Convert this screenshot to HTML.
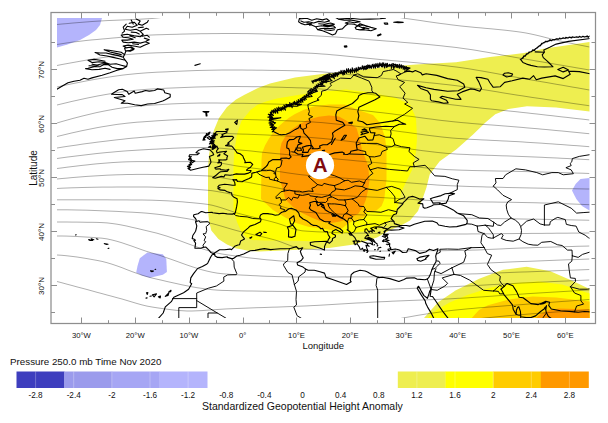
<!DOCTYPE html>
<html><head><meta charset="utf-8"><title>Standardized Geopotential Height Anomaly</title>
<style>html,body{margin:0;padding:0;background:#fff;}body{width:608px;height:423px;overflow:hidden;font-family:"Liberation Sans",sans-serif;}svg{display:block}</style>
</head><body>
<svg width="608" height="423" viewBox="0 0 608 423" font-family="Liberation Sans, sans-serif" fill="#111">
<rect width="608" height="423" fill="#fff"/>
<defs><clipPath id="dc"><rect x="57" y="18" width="532.5" height="300"/></clipPath></defs>
<g shape-rendering="auto">
<polygon points="208.0,211.0 208.0,168.0 209.0,155.0 211.0,143.0 214.0,130.0 219.0,118.0 227.0,107.0 236.0,99.5 245.0,94.5 258.0,88.0 270.0,83.5 295.0,77.5 324.0,73.7 346.0,71.8 379.0,67.5 416.0,64.5 456.0,62.3 490.0,57.0 524.0,53.0 545.0,48.5 589.5,42.0 589.5,111.5 556.0,107.5 527.0,106.3 508.4,109.0 495.3,114.2 486.0,122.0 472.8,134.7 456.2,149.6 439.7,161.2 429.7,174.5 426.4,187.7 423.0,197.6 418.0,210.9 410.0,220.5 400.0,226.0 390.0,230.0 377.0,237.5 354.0,244.5 329.0,248.0 304.0,249.5 282.0,250.5 259.0,251.5 249.6,251.0 235.5,248.2 227.0,244.6 218.4,239.0 211.3,230.5 209.0,221.0" fill="#EEEE50"/>
<polygon points="233.5,210.0 233.5,165.0 234.5,150.0 237.0,134.0 241.5,121.0 251.0,109.5 258.0,104.5 266.0,101.5 277.0,98.6 299.4,94.8 321.6,91.8 346.0,89.5 370.0,92.5 395.0,97.5 410.0,104.5 416.0,118.0 417.0,138.0 416.0,152.0 412.0,170.0 406.0,182.0 401.0,193.0 398.0,205.0 395.0,215.0 389.3,221.6 373.0,229.8 356.4,232.5 345.0,233.0 336.6,234.5 330.2,238.7 323.8,242.0 320.0,241.5 304.0,241.0 280.0,240.5 265.0,240.5 252.0,240.0 246.0,237.0 241.0,231.0 237.0,222.0 234.0,212.0" fill="#FFFF00"/>
<polygon points="261.0,199.0 261.5,160.0 262.0,153.0 265.0,145.5 269.0,138.5 273.3,132.5 278.0,127.0 283.3,122.3 289.0,117.8 295.0,114.0 303.8,109.8 314.2,106.2 329.0,104.6 345.0,104.5 359.0,110.3 373.0,115.0 380.0,123.0 385.0,137.0 386.5,150.0 386.5,180.0 384.2,199.5 381.6,206.0 376.4,210.6 366.0,212.5 364.7,217.0 358.0,220.0 352.5,221.0 347.5,224.0 341.9,228.5 331.3,230.0 320.0,228.3 308.3,226.8 296.0,223.0 285.3,217.6 273.0,210.0" fill="#FFCC00"/>
<polygon points="280.0,180.0 280.0,150.0 281.5,143.0 285.0,137.0 290.4,130.5 298.9,124.5 308.8,119.5 318.7,116.8 329.0,115.5 339.0,116.5 347.0,121.0 356.5,128.0 360.0,140.0 362.0,150.0 368.0,165.0 369.5,180.0 368.0,190.4 366.0,199.5 363.4,206.0 358.2,213.8 347.8,219.0 340.0,221.6 331.3,223.0 320.6,221.2 311.4,217.6 302.2,213.0 293.0,206.9 285.3,199.2 283.0,190.0" fill="#FF9900"/>
<polygon points="424.0,318.0 437.8,302.4 455.5,290.5 479.2,278.7 502.9,269.8 526.6,266.8 550.3,271.3 573.9,281.6 589.5,289.0 589.5,318.0" fill="#EEEE50"/>
<polygon points="428.0,318.0 432.0,312.7 449.6,302.4 467.4,295.0 491.0,287.6 514.7,283.1 538.4,281.6 562.1,284.6 589.5,293.5 589.5,318.0" fill="#FFFF00"/>
<polygon points="471.8,318.0 479.0,310.0 488.0,305.3 508.8,299.4 532.5,296.4 556.2,297.5 589.5,301.5 589.5,318.0" fill="#FFCC00"/>
<polygon points="536.0,318.0 541.0,314.0 548.0,310.5 559.0,308.5 589.5,309.5 589.5,318.0" fill="#FF9900"/>
<polygon points="57.0,18.0 102.0,18.0 100.0,25.0 96.0,30.0 89.0,35.0 80.0,40.0 67.5,44.5 57.0,47.5" fill="#B4B4FC"/>
<polygon points="136.2,272.5 137.5,266.0 139.8,258.3 147.4,252.4 162.8,254.2 166.3,258.9 166.9,271.9 162.8,274.8 149.8,277.8 142.0,275.5" fill="#B4B4FC"/>
<polygon points="589.5,178.0 580.5,179.0 575.6,184.0 572.0,190.5 576.3,199.0 582.0,206.0 589.5,210.5" fill="#B4B4FC"/>
</g>
<g clip-path="url(#dc)"><path d="M57.0 24.5 L62.0 24.0 L67.0 23.6 L72.0 23.1 L77.0 22.7 L82.0 22.3 L87.0 21.9 L92.0 21.5 L97.0 21.2 L102.0 20.9 L107.0 20.6 L112.0 20.4 L117.0 20.2 L122.0 20.0 L127.0 19.8 L132.0 19.6 L137.0 19.4 L142.0 19.1 L147.0 18.8 L152.0 18.5 L157.0 18.0 L162.0 17.4 L165.0 17.0 M57.0 44.5 L62.0 43.7 L67.0 42.9 L72.0 42.2 L77.0 41.6 L82.0 41.0 L87.0 40.4 L92.0 39.9 L97.0 39.5 L102.0 39.0 L107.0 38.6 L112.0 38.1 L117.0 37.7 L122.0 37.2 L127.0 36.7 L132.0 36.3 L137.0 35.9 L142.0 35.5 L147.0 35.2 L152.0 35.0 L157.0 34.8 L162.0 34.7 L167.0 34.5 L172.0 34.4 L177.0 34.3 L182.0 34.1 L187.0 34.0 L192.0 33.9 L197.0 33.8 L202.0 33.7 L207.0 33.7 L212.0 33.6 L217.0 33.6 L222.0 33.5 L227.0 33.5 L232.0 33.5 L237.0 33.5 L242.0 33.6 L247.0 33.6 L252.0 33.7 L257.0 33.8 L262.0 33.9 L267.0 34.1 L272.0 34.2 L277.0 34.4 L282.0 34.5 L287.0 34.7 L292.0 34.9 L297.0 35.0 L302.0 35.2 L307.0 35.4 L312.0 35.6 L317.0 35.9 L322.0 36.2 L327.0 36.5 L332.0 36.8 L337.0 37.1 L342.0 37.5 L347.0 37.9 L352.0 38.3 L357.0 38.7 L362.0 39.1 L367.0 39.5 L372.0 39.9 L377.0 40.3 L382.0 40.7 L387.0 41.1 L392.0 41.4 L397.0 41.8 L402.0 42.3 L407.0 42.7 L412.0 43.1 L417.0 43.5 L422.0 44.0 L427.0 44.4 L432.0 44.9 L437.0 45.4 L442.0 45.9 L447.0 46.5 L452.0 47.0 L457.0 47.6 L462.0 48.3 L467.0 49.0 L472.0 49.7 L477.0 50.5 L482.0 51.4 L487.0 52.2 L492.0 53.1 L497.0 54.0 L502.0 55.0 L507.0 55.9 L512.0 56.8 L517.0 57.7 L522.0 58.5 L527.0 59.4 L532.0 60.2 L537.0 61.1 L542.0 61.9 L547.0 62.8 L552.0 63.6 L557.0 64.5 L562.0 65.3 L567.0 66.2 L572.0 67.0 L577.0 67.9 L582.0 68.7 L587.0 69.6 L589.5 70.0 M57.0 65.5 L62.0 64.5 L67.0 63.6 L72.0 62.7 L77.0 61.8 L82.0 60.9 L87.0 60.0 L92.0 59.2 L97.0 58.4 L102.0 57.7 L107.0 57.0 L112.0 56.3 L117.0 55.7 L122.0 55.2 L127.0 54.6 L132.0 54.2 L137.0 53.8 L142.0 53.5 L147.0 53.2 L152.0 53.0 L157.0 52.8 L162.0 52.7 L167.0 52.5 L172.0 52.4 L177.0 52.3 L182.0 52.1 L187.0 52.0 L192.0 51.9 L197.0 51.8 L202.0 51.7 L207.0 51.7 L212.0 51.6 L217.0 51.6 L222.0 51.5 L227.0 51.5 L232.0 51.5 L237.0 51.5 L242.0 51.6 L247.0 51.6 L252.0 51.7 L257.0 51.7 L262.0 51.8 L267.0 51.9 L272.0 52.1 L277.0 52.2 L282.0 52.3 L287.0 52.5 L292.0 52.6 L297.0 52.8 L302.0 52.9 L307.0 53.1 L312.0 53.3 L317.0 53.6 L322.0 54.0 L327.0 54.3 L332.0 54.8 L337.0 55.2 L342.0 55.7 L347.0 56.2 L352.0 56.7 L357.0 57.2 L362.0 57.7 L367.0 58.2 L372.0 58.7 L377.0 59.2 L382.0 59.7 L387.0 60.1 L392.0 60.6 L397.0 61.0 L402.0 61.5 L407.0 61.9 L412.0 62.4 L417.0 62.8 L422.0 63.3 L427.0 63.8 L432.0 64.3 L437.0 64.8 L442.0 65.3 L447.0 65.9 L452.0 66.5 L457.0 67.1 L462.0 67.8 L467.0 68.5 L472.0 69.3 L477.0 70.2 L482.0 71.0 L487.0 71.9 L492.0 72.8 L497.0 73.7 L502.0 74.7 L507.0 75.6 L512.0 76.5 L517.0 77.4 L522.0 78.3 L527.0 79.2 L532.0 80.1 L537.0 80.9 L542.0 81.8 L547.0 82.6 L552.0 83.5 L557.0 84.4 L562.0 85.2 L567.0 86.1 L572.0 87.0 L577.0 87.8 L582.0 88.7 L587.0 89.6 L589.5 90.0 M57.0 87.0 L62.0 85.9 L67.0 84.8 L72.0 83.8 L77.0 82.8 L82.0 81.8 L87.0 80.8 L92.0 79.9 L97.0 79.0 L102.0 78.2 L107.0 77.4 L112.0 76.6 L117.0 75.9 L122.0 75.2 L127.0 74.6 L132.0 74.1 L137.0 73.6 L142.0 73.2 L147.0 72.8 L152.0 72.5 L157.0 72.2 L162.0 72.0 L167.0 71.8 L172.0 71.5 L177.0 71.3 L182.0 71.1 L187.0 70.9 L192.0 70.7 L197.0 70.5 L202.0 70.4 L207.0 70.3 L212.0 70.2 L217.0 70.1 L222.0 70.0 L227.0 70.0 L232.0 70.0 L237.0 70.0 L242.0 70.0 L247.0 70.1 L252.0 70.1 L257.0 70.2 L262.0 70.2 L267.0 70.3 L272.0 70.4 L277.0 70.4 L282.0 70.5 L287.0 70.6 L292.0 70.7 L297.0 70.8 L302.0 71.0 L307.0 71.1 L312.0 71.3 L317.0 71.6 L322.0 71.9 L327.0 72.3 L332.0 72.8 L337.0 73.3 L342.0 73.8 L347.0 74.4 L352.0 74.9 L357.0 75.5 L362.0 76.1 L367.0 76.6 L372.0 77.2 L377.0 77.7 L382.0 78.2 L387.0 78.7 L392.0 79.1 L397.0 79.6 L402.0 80.1 L407.0 80.5 L412.0 81.0 L417.0 81.5 L422.0 82.0 L427.0 82.5 L432.0 83.0 L437.0 83.5 L442.0 84.1 L447.0 84.6 L452.0 85.2 L457.0 85.8 L462.0 86.5 L467.0 87.2 L472.0 87.9 L477.0 88.6 L482.0 89.4 L487.0 90.2 L492.0 91.0 L497.0 91.8 L502.0 92.7 L507.0 93.5 L512.0 94.3 L517.0 95.1 L522.0 95.8 L527.0 96.6 L532.0 97.4 L537.0 98.1 L542.0 98.8 L547.0 99.6 L552.0 100.3 L557.0 101.1 L562.0 101.8 L567.0 102.5 L572.0 103.3 L577.0 104.0 L582.0 104.7 L587.0 105.4 L589.5 105.8 M57.0 105.0 L62.0 103.8 L67.0 102.6 L72.0 101.4 L77.0 100.3 L82.0 99.2 L87.0 98.1 L92.0 97.1 L97.0 96.1 L102.0 95.2 L107.0 94.3 L112.0 93.5 L117.0 92.7 L122.0 91.9 L127.0 91.3 L132.0 90.7 L137.0 90.1 L142.0 89.7 L147.0 89.3 L152.0 89.0 L157.0 88.7 L162.0 88.5 L167.0 88.2 L172.0 88.0 L177.0 87.8 L182.0 87.6 L187.0 87.4 L192.0 87.2 L197.0 87.0 L202.0 86.9 L207.0 86.8 L212.0 86.7 L217.0 86.6 L222.0 86.5 L227.0 86.5 L232.0 86.5 L237.0 86.5 L242.0 86.6 L247.0 86.6 L252.0 86.7 L257.0 86.7 L262.0 86.8 L267.0 86.9 L272.0 87.1 L277.0 87.2 L282.0 87.3 L287.0 87.5 L292.0 87.6 L297.0 87.8 L302.0 87.9 L307.0 88.1 L312.0 88.4 L317.0 88.7 L322.0 89.1 L327.0 89.5 L332.0 90.0 L337.0 90.5 L342.0 91.0 L347.0 91.6 L352.0 92.2 L357.0 92.8 L362.0 93.4 L367.0 94.0 L372.0 94.6 L377.0 95.2 L382.0 95.7 L387.0 96.3 L392.0 96.9 L397.0 97.6 L402.0 98.2 L407.0 98.9 L412.0 99.5 L417.0 100.2 L422.0 100.9 L427.0 101.6 L432.0 102.3 L437.0 102.9 L442.0 103.6 L447.0 104.2 L452.0 104.8 L457.0 105.4 L462.0 106.0 L467.0 106.6 L472.0 107.1 L477.0 107.6 L482.0 108.2 L487.0 108.7 L492.0 109.2 L497.0 109.7 L502.0 110.3 L507.0 110.8 L512.0 111.3 L517.0 111.8 L522.0 112.4 L527.0 112.9 L532.0 113.5 L537.0 114.0 L542.0 114.6 L547.0 115.2 L552.0 115.7 L557.0 116.3 L562.0 116.9 L567.0 117.4 L572.0 118.0 L577.0 118.6 L582.0 119.1 L587.0 119.7 L589.5 120.0 M57.0 123.0 L62.0 121.5 L67.0 120.1 L72.0 118.7 L77.0 117.4 L82.0 116.1 L87.0 114.9 L92.0 113.7 L97.0 112.5 L102.0 111.5 L107.0 110.5 L112.0 109.6 L117.0 108.7 L122.0 108.0 L127.0 107.3 L132.0 106.7 L137.0 106.2 L142.0 105.9 L147.0 105.5 L152.0 105.1 L157.0 104.8 L162.0 104.5 L167.0 104.2 L172.0 103.9 L177.0 103.7 L182.0 103.5 L187.0 103.3 L192.0 103.2 L197.0 103.1 L202.0 103.0 L207.0 103.0 L212.0 103.0 L217.0 103.0 L222.0 103.1 L227.0 103.1 L232.0 103.2 L237.0 103.3 L242.0 103.3 L247.0 103.4 L252.0 103.5 L257.0 103.6 L262.0 103.7 L267.0 103.9 L272.0 104.0 L277.0 104.1 L282.0 104.3 L287.0 104.4 L292.0 104.6 L297.0 104.8 L302.0 104.9 L307.0 105.1 L312.0 105.4 L317.0 105.7 L322.0 106.1 L327.0 106.5 L332.0 107.0 L337.0 107.5 L342.0 108.0 L347.0 108.6 L352.0 109.2 L357.0 109.8 L362.0 110.4 L367.0 111.0 L372.0 111.6 L377.0 112.2 L382.0 112.7 L387.0 113.3 L392.0 113.9 L397.0 114.6 L402.0 115.2 L407.0 115.9 L412.0 116.5 L417.0 117.2 L422.0 117.9 L427.0 118.6 L432.0 119.2 L437.0 119.9 L442.0 120.5 L447.0 121.0 L452.0 121.6 L457.0 122.1 L462.0 122.6 L467.0 123.0 L472.0 123.5 L477.0 123.9 L482.0 124.3 L487.0 124.7 L492.0 125.0 L497.0 125.4 L502.0 125.8 L507.0 126.2 L512.0 126.6 L517.0 127.0 L522.0 127.4 L527.0 127.9 L532.0 128.3 L537.0 128.7 L542.0 129.2 L547.0 129.6 L552.0 130.1 L557.0 130.6 L562.0 131.0 L567.0 131.5 L572.0 132.0 L577.0 132.5 L582.0 133.0 L587.0 133.5 L589.5 133.7 M57.0 136.5 L62.0 135.3 L67.0 134.1 L72.0 132.9 L77.0 131.8 L82.0 130.7 L87.0 129.7 L92.0 128.7 L97.0 127.7 L102.0 126.8 L107.0 126.0 L112.0 125.2 L117.0 124.4 L122.0 123.8 L127.0 123.2 L132.0 122.7 L137.0 122.2 L142.0 121.9 L147.0 121.5 L152.0 121.2 L157.0 120.8 L162.0 120.5 L167.0 120.2 L172.0 119.9 L177.0 119.7 L182.0 119.5 L187.0 119.3 L192.0 119.2 L197.0 119.1 L202.0 119.0 L207.0 119.0 L212.0 119.0 L217.0 119.0 L222.0 119.1 L227.0 119.2 L232.0 119.2 L237.0 119.3 L242.0 119.4 L247.0 119.5 L252.0 119.7 L257.0 119.8 L262.0 120.0 L267.0 120.1 L272.0 120.3 L277.0 120.5 L282.0 120.6 L287.0 120.8 L292.0 121.0 L297.0 121.2 L302.0 121.4 L307.0 121.6 L312.0 121.9 L317.0 122.3 L322.0 122.6 L327.0 123.1 L332.0 123.6 L337.0 124.1 L342.0 124.6 L347.0 125.2 L352.0 125.7 L357.0 126.3 L362.0 126.9 L367.0 127.5 L372.0 128.1 L377.0 128.7 L382.0 129.2 L387.0 129.8 L392.0 130.4 L397.0 131.1 L402.0 131.8 L407.0 132.4 L412.0 133.1 L417.0 133.8 L422.0 134.5 L427.0 135.2 L432.0 135.8 L437.0 136.4 L442.0 137.0 L447.0 137.5 L452.0 138.0 L457.0 138.4 L462.0 138.7 L467.0 139.1 L472.0 139.4 L477.0 139.6 L482.0 139.9 L487.0 140.1 L492.0 140.4 L497.0 140.6 L502.0 140.9 L507.0 141.1 L512.0 141.4 L517.0 141.6 L522.0 141.9 L527.0 142.3 L532.0 142.6 L537.0 142.9 L542.0 143.2 L547.0 143.6 L552.0 143.9 L557.0 144.3 L562.0 144.6 L567.0 145.0 L572.0 145.4 L577.0 145.7 L582.0 146.1 L587.0 146.5 L589.5 146.7 M57.0 148.0 L62.0 147.2 L67.0 146.4 L72.0 145.7 L77.0 145.0 L82.0 144.2 L87.0 143.5 L92.0 142.9 L97.0 142.2 L102.0 141.6 L107.0 141.0 L112.0 140.4 L117.0 139.8 L122.0 139.3 L127.0 138.7 L132.0 138.2 L137.0 137.8 L142.0 137.3 L147.0 136.9 L152.0 136.4 L157.0 135.9 L162.0 135.5 L167.0 135.0 L172.0 134.6 L177.0 134.2 L182.0 133.8 L187.0 133.5 L192.0 133.3 L197.0 133.1 L202.0 133.0 L207.0 133.0 L212.0 133.1 L217.0 133.2 L222.0 133.3 L227.0 133.5 L232.0 133.7 L237.0 133.9 L242.0 134.1 L247.0 134.2 L252.0 134.4 L257.0 134.6 L262.0 134.8 L267.0 135.0 L272.0 135.3 L277.0 135.5 L282.0 135.7 L287.0 136.0 L292.0 136.3 L297.0 136.6 L302.0 136.9 L307.0 137.2 L312.0 137.6 L317.0 138.0 L322.0 138.4 L327.0 138.9 L332.0 139.4 L337.0 140.0 L342.0 140.6 L347.0 141.1 L352.0 141.7 L357.0 142.3 L362.0 142.9 L367.0 143.5 L372.0 144.1 L377.0 144.7 L382.0 145.2 L387.0 145.8 L392.0 146.5 L397.0 147.1 L402.0 147.8 L407.0 148.5 L412.0 149.2 L417.0 149.9 L422.0 150.6 L427.0 151.2 L432.0 151.8 L437.0 152.4 L442.0 152.9 L447.0 153.4 L452.0 153.7 L457.0 154.1 L462.0 154.3 L467.0 154.5 L472.0 154.8 L477.0 154.9 L482.0 155.1 L487.0 155.3 L492.0 155.4 L497.0 155.6 L502.0 155.8 L507.0 155.9 L512.0 156.1 L517.0 156.3 L522.0 156.5 L527.0 156.7 L532.0 156.9 L537.0 157.1 L542.0 157.3 L547.0 157.6 L552.0 157.8 L557.0 158.0 L562.0 158.3 L567.0 158.5 L572.0 158.8 L577.0 159.0 L582.0 159.3 L587.0 159.6 L589.5 159.7 M57.0 158.5 L62.0 157.8 L67.0 157.1 L72.0 156.5 L77.0 155.9 L82.0 155.3 L87.0 154.7 L92.0 154.1 L97.0 153.5 L102.0 153.0 L107.0 152.5 L112.0 152.1 L117.0 151.6 L122.0 151.2 L127.0 150.8 L132.0 150.5 L137.0 150.2 L142.0 149.9 L147.0 149.6 L152.0 149.3 L157.0 149.1 L162.0 148.8 L167.0 148.6 L172.0 148.3 L177.0 148.1 L182.0 147.9 L187.0 147.8 L192.0 147.6 L197.0 147.6 L202.0 147.5 L207.0 147.5 L212.0 147.7 L217.0 148.0 L222.0 148.3 L227.0 148.8 L232.0 149.3 L237.0 149.7 L242.0 150.2 L247.0 150.6 L252.0 151.1 L257.0 151.7 L262.0 152.2 L267.0 152.7 L272.0 153.2 L277.0 153.7 L282.0 154.1 L287.0 154.6 L292.0 155.0 L297.0 155.4 L302.0 155.8 L307.0 156.3 L312.0 156.7 L317.0 157.2 L322.0 157.6 L327.0 158.1 L332.0 158.5 L337.0 159.0 L342.0 159.5 L347.0 159.9 L352.0 160.4 L357.0 160.9 L362.0 161.3 L367.0 161.8 L372.0 162.3 L377.0 162.7 L382.0 163.2 L387.0 163.7 L392.0 164.2 L397.0 164.7 L402.0 165.3 L407.0 165.8 L412.0 166.4 L417.0 166.9 L422.0 167.5 L427.0 168.0 L432.0 168.4 L437.0 168.9 L442.0 169.2 L447.0 169.6 L452.0 169.8 L457.0 170.0 L462.0 170.2 L467.0 170.3 L472.0 170.5 L477.0 170.6 L482.0 170.7 L487.0 170.8 L492.0 170.9 L497.0 171.0 L502.0 171.1 L507.0 171.1 L512.0 171.2 L517.0 171.4 L522.0 171.5 L527.0 171.6 L532.0 171.7 L537.0 171.9 L542.0 172.0 L547.0 172.2 L552.0 172.3 L557.0 172.5 L562.0 172.6 L567.0 172.8 L572.0 172.9 L577.0 173.1 L582.0 173.2 L587.0 173.4 L589.5 173.5 M57.0 168.5 L62.0 167.9 L67.0 167.2 L72.0 166.6 L77.0 166.0 L82.0 165.4 L87.0 164.9 L92.0 164.3 L97.0 163.8 L102.0 163.4 L107.0 163.0 L112.0 162.6 L117.0 162.3 L122.0 162.0 L127.0 161.8 L132.0 161.7 L137.0 161.6 L142.0 161.6 L147.0 161.6 L152.0 161.6 L157.0 161.6 L162.0 161.6 L167.0 161.6 L172.0 161.6 L177.0 161.6 L182.0 161.6 L187.0 161.6 L192.0 161.6 L197.0 161.6 L202.0 161.6 L207.0 161.6 L212.0 161.9 L217.0 162.5 L222.0 163.3 L227.0 164.2 L232.0 165.1 L237.0 166.0 L242.0 166.7 L247.0 167.3 L252.0 168.0 L257.0 168.6 L262.0 169.3 L267.0 169.9 L272.0 170.6 L277.0 171.3 L282.0 172.0 L287.0 172.8 L292.0 173.5 L297.0 174.2 L302.0 174.8 L307.0 175.3 L312.0 175.8 L317.0 176.2 L322.0 176.6 L327.0 177.0 L332.0 177.3 L337.0 177.7 L342.0 178.0 L347.0 178.3 L352.0 178.7 L357.0 179.0 L362.0 179.3 L367.0 179.6 L372.0 179.9 L377.0 180.3 L382.0 180.6 L387.0 181.0 L392.0 181.4 L397.0 181.8 L402.0 182.2 L407.0 182.7 L412.0 183.1 L417.0 183.5 L422.0 183.9 L427.0 184.3 L432.0 184.6 L437.0 185.0 L442.0 185.3 L447.0 185.6 L452.0 185.8 L457.0 186.0 L462.0 186.2 L467.0 186.4 L472.0 186.6 L477.0 186.7 L482.0 186.8 L487.0 187.0 L492.0 187.1 L497.0 187.2 L502.0 187.3 L507.0 187.5 L512.0 187.6 L517.0 187.7 L522.0 187.8 L527.0 187.9 L532.0 188.0 L537.0 188.1 L542.0 188.2 L547.0 188.3 L552.0 188.4 L557.0 188.5 L562.0 188.6 L567.0 188.7 L572.0 188.7 L577.0 188.8 L582.0 188.9 L587.0 189.0 L589.5 189.0 M57.0 179.0 L62.0 178.5 L67.0 178.1 L72.0 177.6 L77.0 177.2 L82.0 176.8 L87.0 176.4 L92.0 176.1 L97.0 175.8 L102.0 175.5 L107.0 175.2 L112.0 175.0 L117.0 174.8 L122.0 174.7 L127.0 174.5 L132.0 174.5 L137.0 174.4 L142.0 174.4 L147.0 174.4 L152.0 174.5 L157.0 174.5 L162.0 174.6 L167.0 174.7 L172.0 174.8 L177.0 174.9 L182.0 175.0 L187.0 175.2 L192.0 175.3 L197.0 175.5 L202.0 175.7 L207.0 175.9 L212.0 176.3 L217.0 177.0 L222.0 177.8 L227.0 178.7 L232.0 179.6 L237.0 180.5 L242.0 181.3 L247.0 182.2 L252.0 183.1 L257.0 184.1 L262.0 185.0 L267.0 186.0 L272.0 186.9 L277.0 187.9 L282.0 188.9 L287.0 190.0 L292.0 191.1 L297.0 192.0 L302.0 192.8 L307.0 193.3 L312.0 193.7 L317.0 194.1 L322.0 194.5 L327.0 194.8 L332.0 195.1 L337.0 195.4 L342.0 195.7 L347.0 195.9 L352.0 196.1 L357.0 196.4 L362.0 196.6 L367.0 196.8 L372.0 197.1 L377.0 197.3 L382.0 197.6 L387.0 197.9 L392.0 198.2 L397.0 198.5 L402.0 198.8 L407.0 199.1 L412.0 199.4 L417.0 199.8 L422.0 200.0 L427.0 200.3 L432.0 200.6 L437.0 200.8 L442.0 201.0 L447.0 201.2 L452.0 201.4 L457.0 201.5 L462.0 201.6 L467.0 201.7 L472.0 201.8 L477.0 201.9 L482.0 201.9 L487.0 202.0 L492.0 202.0 L497.0 202.1 L502.0 202.2 L507.0 202.2 L512.0 202.3 L517.0 202.4 L522.0 202.5 L527.0 202.6 L532.0 202.7 L537.0 202.8 L542.0 203.0 L547.0 203.1 L552.0 203.3 L557.0 203.4 L562.0 203.6 L567.0 203.8 L572.0 204.0 L577.0 204.2 L582.0 204.4 L587.0 204.6 L589.5 204.7 M57.0 188.5 L62.0 188.2 L67.0 188.0 L72.0 187.8 L77.0 187.7 L82.0 187.5 L87.0 187.4 L92.0 187.3 L97.0 187.2 L102.0 187.1 L107.0 187.1 L112.0 187.1 L117.0 187.0 L122.0 187.0 L127.0 187.0 L132.0 187.0 L137.0 187.0 L142.0 187.0 L147.0 187.0 L152.0 187.1 L157.0 187.3 L162.0 187.4 L167.0 187.6 L172.0 187.8 L177.0 188.1 L182.0 188.4 L187.0 188.7 L192.0 189.0 L197.0 189.4 L202.0 189.8 L207.0 190.2 L212.0 190.7 L217.0 191.5 L222.0 192.4 L227.0 193.3 L232.0 194.4 L237.0 195.4 L242.0 196.4 L247.0 197.5 L252.0 198.7 L257.0 199.9 L262.0 201.2 L267.0 202.5 L272.0 203.7 L277.0 205.0 L282.0 206.5 L287.0 208.1 L292.0 209.6 L297.0 210.9 L302.0 211.8 L307.0 212.3 L312.0 212.6 L317.0 213.0 L322.0 213.3 L327.0 213.6 L332.0 213.8 L337.0 214.0 L342.0 214.2 L347.0 214.4 L352.0 214.6 L357.0 214.7 L362.0 214.9 L367.0 215.0 L372.0 215.2 L377.0 215.4 L382.0 215.6 L387.0 215.8 L392.0 216.0 L397.0 216.2 L402.0 216.3 L407.0 216.5 L412.0 216.7 L417.0 216.9 L422.0 217.1 L427.0 217.2 L432.0 217.4 L437.0 217.5 L442.0 217.7 L447.0 217.8 L452.0 217.9 L457.0 218.0 L462.0 218.1 L467.0 218.2 L472.0 218.3 L477.0 218.4 L482.0 218.4 L487.0 218.5 L492.0 218.6 L497.0 218.6 L502.0 218.7 L507.0 218.8 L512.0 218.8 L517.0 218.9 L522.0 219.0 L527.0 219.1 L532.0 219.2 L537.0 219.2 L542.0 219.3 L547.0 219.4 L552.0 219.5 L557.0 219.6 L562.0 219.7 L567.0 219.8 L572.0 219.9 L577.0 220.0 L582.0 220.1 L587.0 220.2 L589.5 220.3 M57.0 199.8 L62.0 199.8 L67.0 199.8 L72.0 199.8 L77.0 199.8 L82.0 199.8 L87.0 199.8 L92.0 199.8 L97.0 199.8 L102.0 199.8 L107.0 199.8 L112.0 199.9 L117.0 199.9 L122.0 199.9 L127.0 199.9 L132.0 200.0 L137.0 200.0 L142.0 200.0 L147.0 200.1 L152.0 200.2 L157.0 200.4 L162.0 200.6 L167.0 200.8 L172.0 201.1 L177.0 201.5 L182.0 201.8 L187.0 202.3 L192.0 202.7 L197.0 203.2 L202.0 203.7 L207.0 204.3 L212.0 205.2 L217.0 206.5 L222.0 208.0 L227.0 209.7 L232.0 211.4 L237.0 213.0 L242.0 214.3 L247.0 215.6 L252.0 216.8 L257.0 218.1 L262.0 219.3 L267.0 220.5 L272.0 221.8 L277.0 223.2 L282.0 224.8 L287.0 226.6 L292.0 228.4 L297.0 229.8 L302.0 230.8 L307.0 231.2 L312.0 231.5 L317.0 231.8 L322.0 232.0 L327.0 232.2 L332.0 232.4 L337.0 232.6 L342.0 232.8 L347.0 232.9 L352.0 233.0 L357.0 233.2 L362.0 233.2 L367.0 233.3 L372.0 233.4 L377.0 233.5 L382.0 233.5 L387.0 233.6 L392.0 233.6 L397.0 233.7 L402.0 233.7 L407.0 233.8 L412.0 233.8 L417.0 233.8 L422.0 233.9 L427.0 233.9 L432.0 233.9 L437.0 234.0 L442.0 234.0 L447.0 234.0 L452.0 234.0 L457.0 234.0 L462.0 234.0 L467.0 234.0 L472.0 233.9 L477.0 233.9 L482.0 233.9 L487.0 233.8 L492.0 233.8 L497.0 233.7 L502.0 233.7 L507.0 233.6 L512.0 233.6 L517.0 233.5 L522.0 233.5 L527.0 233.5 L532.0 233.4 L537.0 233.4 L542.0 233.4 L547.0 233.3 L552.0 233.3 L557.0 233.2 L562.0 233.2 L567.0 233.2 L572.0 233.1 L577.0 233.1 L582.0 233.1 L587.0 233.0 L589.5 233.0 M57.0 209.8 L62.0 209.8 L67.0 209.8 L72.0 209.9 L77.0 210.0 L82.0 210.1 L87.0 210.2 L92.0 210.4 L97.0 210.6 L102.0 210.8 L107.0 211.0 L112.0 211.2 L117.0 211.4 L122.0 211.7 L127.0 212.0 L132.0 212.2 L137.0 212.5 L142.0 212.8 L147.0 213.2 L152.0 213.7 L157.0 214.2 L162.0 214.8 L167.0 215.5 L172.0 216.2 L177.0 217.0 L182.0 217.8 L187.0 218.6 L192.0 219.5 L197.0 220.5 L202.0 221.4 L207.0 222.4 L212.0 223.6 L217.0 224.9 L222.0 226.3 L227.0 227.8 L232.0 229.3 L237.0 230.7 L242.0 232.0 L247.0 233.2 L252.0 234.4 L257.0 235.6 L262.0 236.7 L267.0 237.9 L272.0 239.2 L277.0 240.6 L282.0 242.4 L287.0 244.3 L292.0 246.2 L297.0 247.8 L302.0 248.8 L307.0 249.2 L312.0 249.4 L317.0 249.7 L322.0 249.9 L327.0 250.1 L332.0 250.2 L337.0 250.4 L342.0 250.5 L347.0 250.6 L352.0 250.7 L357.0 250.8 L362.0 250.9 L367.0 250.9 L372.0 251.0 L377.0 251.0 L382.0 251.0 L387.0 251.0 L392.0 251.0 L397.0 251.0 L402.0 250.9 L407.0 250.9 L412.0 250.9 L417.0 250.9 L422.0 250.8 L427.0 250.8 L432.0 250.7 L437.0 250.7 L442.0 250.7 L447.0 250.6 L452.0 250.5 L457.0 250.5 L462.0 250.4 L467.0 250.3 L472.0 250.1 L477.0 250.0 L482.0 249.8 L487.0 249.5 L492.0 249.3 L497.0 249.1 L502.0 248.9 L507.0 248.6 L512.0 248.4 L517.0 248.2 L522.0 248.0 L527.0 247.9 L532.0 247.7 L537.0 247.5 L542.0 247.4 L547.0 247.2 L552.0 247.1 L557.0 246.9 L562.0 246.8 L567.0 246.6 L572.0 246.5 L577.0 246.3 L582.0 246.2 L587.0 246.1 L589.5 246.0 M57.0 222.0 L62.0 222.0 L67.0 222.0 L72.0 222.1 L77.0 222.1 L82.0 222.2 L87.0 222.3 L92.0 222.3 L97.0 222.4 L102.0 222.6 L107.0 222.9 L112.0 223.5 L117.0 224.2 L122.0 225.1 L127.0 226.1 L132.0 227.3 L137.0 228.4 L142.0 229.6 L147.0 230.8 L152.0 232.0 L157.0 233.2 L162.0 234.7 L167.0 236.2 L172.0 237.9 L177.0 239.7 L182.0 241.5 L187.0 243.4 L192.0 245.2 L197.0 247.0 L202.0 248.7 L207.0 250.3 L212.0 251.7 L217.0 253.0 L222.0 254.0 L227.0 254.8 L232.0 255.5 L237.0 256.2 L242.0 256.9 L247.0 257.6 L252.0 258.2 L257.0 258.7 L262.0 259.3 L267.0 259.8 L272.0 260.2 L277.0 260.7 L282.0 261.1 L287.0 261.5 L292.0 261.8 L297.0 262.1 L302.0 262.4 L307.0 262.6 L312.0 262.9 L317.0 263.1 L322.0 263.4 L327.0 263.6 L332.0 263.8 L337.0 264.0 L342.0 264.2 L347.0 264.4 L352.0 264.6 L357.0 264.7 L362.0 264.8 L367.0 264.9 L372.0 265.0 L377.0 265.0 L382.0 265.0 L387.0 265.0 L392.0 265.0 L397.0 264.9 L402.0 264.9 L407.0 264.8 L412.0 264.8 L417.0 264.7 L422.0 264.6 L427.0 264.5 L432.0 264.5 L437.0 264.4 L442.0 264.3 L447.0 264.2 L452.0 264.1 L457.0 264.0 L462.0 263.9 L467.0 263.7 L472.0 263.6 L477.0 263.4 L482.0 263.2 L487.0 263.0 L492.0 262.8 L497.0 262.6 L502.0 262.4 L507.0 262.1 L512.0 261.9 L517.0 261.7 L522.0 261.5 L527.0 261.4 L532.0 261.2 L537.0 261.0 L542.0 260.8 L547.0 260.6 L552.0 260.4 L557.0 260.2 L562.0 260.0 L567.0 259.8 L572.0 259.7 L577.0 259.5 L582.0 259.3 L587.0 259.1 L589.5 259.0 M57.0 236.0 L62.0 236.0 L67.0 236.1 L72.0 236.3 L77.0 236.5 L82.0 236.8 L87.0 237.1 L92.0 237.4 L97.0 237.8 L102.0 238.2 L107.0 238.9 L112.0 240.0 L117.0 241.3 L122.0 242.8 L127.0 244.5 L132.0 246.2 L137.0 248.0 L142.0 249.8 L147.0 251.5 L152.0 253.0 L157.0 254.5 L162.0 256.1 L167.0 257.9 L172.0 259.6 L177.0 261.4 L182.0 263.2 L187.0 265.0 L192.0 266.7 L197.0 268.3 L202.0 269.8 L207.0 271.1 L212.0 272.2 L217.0 273.1 L222.0 273.7 L227.0 274.1 L232.0 274.5 L237.0 274.8 L242.0 275.1 L247.0 275.3 L252.0 275.6 L257.0 275.8 L262.0 276.1 L267.0 276.3 L272.0 276.4 L277.0 276.6 L282.0 276.7 L287.0 276.8 L292.0 276.9 L297.0 277.0 L302.0 277.0 L307.0 277.0 L312.0 277.0 L317.0 277.0 L322.0 277.0 L327.0 277.0 L332.0 277.0 L337.0 277.0 L342.0 276.9 L347.0 276.9 L352.0 276.9 L357.0 276.9 L362.0 276.9 L367.0 276.9 L372.0 276.8 L377.0 276.8 L382.0 276.8 L387.0 276.7 L392.0 276.7 L397.0 276.6 L402.0 276.4 L407.0 276.3 L412.0 276.1 L417.0 276.0 L422.0 275.8 L427.0 275.6 L432.0 275.4 L437.0 275.2 L442.0 275.0 L447.0 274.8 L452.0 274.6 L457.0 274.5 L462.0 274.3 L467.0 274.1 L472.0 273.9 L477.0 273.8 L482.0 273.6 L487.0 273.4 L492.0 273.2 L497.0 273.0 L502.0 272.8 L507.0 272.6 L512.0 272.4 L517.0 272.2 L522.0 272.0 L527.0 271.9 L532.0 271.7 L537.0 271.5 L542.0 271.3 L547.0 271.1 L552.0 270.9 L557.0 270.7 L562.0 270.5 L567.0 270.3 L572.0 270.2 L577.0 270.0 L582.0 269.8 L587.0 269.6 L589.5 269.5 M57.0 255.0 L62.0 255.3 L67.0 255.8 L72.0 256.4 L77.0 257.0 L82.0 257.8 L87.0 258.6 L92.0 259.5 L97.0 260.4 L102.0 261.4 L107.0 262.7 L112.0 264.2 L117.0 265.9 L122.0 267.7 L127.0 269.7 L132.0 271.6 L137.0 273.4 L142.0 275.2 L147.0 276.7 L152.0 278.0 L157.0 279.2 L162.0 280.3 L167.0 281.5 L172.0 282.6 L177.0 283.7 L182.0 284.8 L187.0 285.8 L192.0 286.8 L197.0 287.7 L202.0 288.4 L207.0 289.1 L212.0 289.7 L217.0 290.1 L222.0 290.4 L227.0 290.5 L232.0 290.7 L237.0 290.8 L242.0 290.9 L247.0 291.0 L252.0 291.0 L257.0 291.1 L262.0 291.2 L267.0 291.3 L272.0 291.3 L277.0 291.4 L282.0 291.4 L287.0 291.4 L292.0 291.5 L297.0 291.5 L302.0 291.5 L307.0 291.5 L312.0 291.5 L317.0 291.4 L322.0 291.3 L327.0 291.2 L332.0 291.1 L337.0 291.0 L342.0 290.8 L347.0 290.6 L352.0 290.5 L357.0 290.3 L362.0 290.1 L367.0 289.9 L372.0 289.8 L377.0 289.6 L382.0 289.4 L387.0 289.3 L392.0 289.1 L397.0 288.9 L402.0 288.7 L407.0 288.6 L412.0 288.4 L417.0 288.2 L422.0 288.0 L427.0 287.8 L432.0 287.6 L437.0 287.3 L442.0 287.1 L447.0 286.9 L452.0 286.7 L457.0 286.5 L462.0 286.2 L467.0 286.0 L472.0 285.7 L477.0 285.5 L482.0 285.2 L487.0 284.9 L492.0 284.6 L497.0 284.4 L502.0 284.1 L507.0 283.8 L512.0 283.6 L517.0 283.3 L522.0 283.0 L527.0 282.8 L532.0 282.6 L537.0 282.3 L542.0 282.1 L547.0 281.9 L552.0 281.6 L557.0 281.4 L562.0 281.2 L567.0 281.0 L572.0 280.7 L577.0 280.5 L582.0 280.3 L587.0 280.1 L589.5 280.0 M57.0 281.5 L62.0 282.8 L67.0 284.2 L72.0 285.5 L77.0 286.9 L82.0 288.2 L87.0 289.5 L92.0 290.9 L97.0 292.3 L102.0 293.6 L107.0 295.0 L112.0 296.3 L117.0 297.7 L122.0 299.0 L127.0 300.5 L132.0 302.0 L137.0 303.5 L142.0 304.9 L147.0 306.1 L152.0 307.0 L157.0 307.8 L162.0 308.5 L167.0 309.2 L172.0 309.8 L177.0 310.4 L182.0 310.7 L187.0 311.0 L192.0 311.0 L197.0 310.8 L202.0 310.6 L207.0 310.2 L212.0 309.9 L217.0 309.5 L222.0 309.2 L227.0 308.9 L232.0 308.7 L237.0 308.5 L242.0 308.3 L247.0 308.1 L252.0 307.9 L257.0 307.7 L262.0 307.6 L267.0 307.4 L272.0 307.2 L277.0 307.1 L282.0 306.9 L287.0 306.7 L292.0 306.5 L297.0 306.3 L302.0 306.1 L307.0 305.9 L312.0 305.6 L317.0 305.4 L322.0 305.1 L327.0 304.8 L332.0 304.5 L337.0 304.2 L342.0 303.9 L347.0 303.6 L352.0 303.3 L357.0 303.0 L362.0 302.8 L367.0 302.5 L372.0 302.2 L377.0 301.9 L382.0 301.7 L387.0 301.5 L392.0 301.2 L397.0 301.0 L402.0 300.8 L407.0 300.6 L412.0 300.4 L417.0 300.2 L422.0 300.0 L427.0 299.8 L432.0 299.6 L437.0 299.4 L442.0 299.2 L447.0 299.0 L452.0 298.7 L457.0 298.4 L462.0 298.2 L467.0 297.9 L472.0 297.5 L477.0 297.2 L482.0 296.9 L487.0 296.5 L492.0 296.2 L497.0 295.8 L502.0 295.4 L507.0 295.1 L512.0 294.7 L517.0 294.4 L522.0 294.1 L527.0 293.7 L532.0 293.4 L537.0 293.1 L542.0 292.8 L547.0 292.5 L552.0 292.2 L557.0 291.9 L562.0 291.6 L567.0 291.3 L572.0 291.0 L577.0 290.7 L582.0 290.4 L587.0 290.1 L589.5 290.0 M398.0 319.0 L403.0 318.0 L408.0 317.1 L413.0 316.2 L418.0 315.3 L423.0 314.5 L428.0 313.7 L433.0 313.0 L438.0 312.3 L443.0 311.6 L448.0 310.9 L453.0 310.3 L458.0 309.8 L463.0 309.3 L468.0 308.8 L473.0 308.4 L478.0 307.9 L483.0 307.5 L488.0 307.1 L493.0 306.8 L498.0 306.4 L503.0 306.0 L508.0 305.6 L513.0 305.3 L518.0 304.9 L523.0 304.5 L528.0 304.1 L533.0 303.7 L538.0 303.3 L543.0 302.9 L548.0 302.6 L553.0 302.2 L558.0 301.8 L563.0 301.4 L568.0 301.1 L573.0 300.7 L578.0 300.3 L583.0 300.0 L588.0 299.6 L589.5 299.5 M477.0 319.0 L482.0 318.4 L487.0 317.8 L492.0 317.3 L497.0 316.8 L502.0 316.3 L507.0 315.8 L512.0 315.4 L517.0 315.0 L522.0 314.6 L527.0 314.2 L532.0 313.8 L537.0 313.4 L542.0 313.0 L547.0 312.7 L552.0 312.3 L557.0 311.9 L562.0 311.6 L567.0 311.2 L572.0 310.9 L577.0 310.6 L582.0 310.3 L587.0 309.9 L589.5 309.8 M396.0 17.0 L401.0 17.7 L406.0 18.5 L411.0 19.2 L416.0 19.9 L421.0 20.6 L426.0 21.4 L431.0 22.1 L436.0 22.8 L441.0 23.5 L446.0 24.1 L451.0 24.8 L456.0 25.4 L461.0 26.0 L466.0 26.5 L471.0 27.0 L476.0 27.5 L481.0 27.9 L486.0 28.4 L491.0 28.8 L496.0 29.3 L501.0 29.8 L506.0 30.3 L511.0 30.9 L516.0 31.5 L521.0 32.2 L526.0 33.0 L531.0 34.0 L536.0 35.1 L541.0 36.3 L546.0 37.6 L551.0 38.9 L556.0 40.1 L561.0 41.2 L566.0 42.3 L571.0 43.3 L576.0 44.3 L581.0 45.3 L586.0 46.3 L589.5 47.0" fill="none" stroke="#000" stroke-width="0.75" stroke-opacity="0.42"/>
<path d="M303.0 129.4 L306.7 127.8 L306.2 124.5 L310.5 122.4 L308.9 118.6 L312.7 116.7 L308.3 114.8 L309.4 111.6 L308.3 107.8 L307.8 104.6 L313.2 102.1 L319.1 100.0 L317.0 99.2 L321.3 95.4 L321.8 91.1 L326.6 90.0 L331.5 85.1 L329.9 83.5 L336.3 80.3 L340.6 78.1 L350.8 78.6 L353.8 75.1M353.8 75.1 L361.6 78.1 L369.1 81.1 L370.4 84.0 L371.8 87.3 L371.8 90.5 L373.1 92.7M353.8 75.1 L357.8 73.8 L363.7 76.9 L368.0 77.3 L377.2 77.7 L381.5 75.4 L383.1 71.6 L388.5 70.5 L393.3 69.5 L396.0 70.8 L400.8 73.8 L398.8 75.1M398.8 75.1 L405.1 71.9 L409.1 71.1M398.8 75.1 L396.2 75.9 L398.1 79.7 L404.6 82.4 L399.7 86.7 L405.1 93.2 L403.0 98.1 L407.8 102.4 L404.6 104.0 L412.6 108.3 L404.6 114.3 L392.8 121.0M394.1 126.9 L390.6 130.5 L391.1 133.7 L390.3 137.2M390.3 137.2 L385.8 137.2 L379.3 134.8 L374.2 135.5M390.3 137.2 L393.0 138.6 L394.9 144.8M394.9 144.8 L391.7 146.7 L386.3 147.2M386.3 147.2 L380.9 144.8 L377.2 143.4 L366.4 143.4 L361.6 143.4 L356.5 145.2M386.3 147.2 L387.4 149.4 L382.0 151.5 L380.9 154.8 L380.4 155.6 L374.5 156.9 L369.6 156.7M369.6 156.7 L365.9 154.5M365.9 154.5 L365.6 151.5 L361.6 150.7 L357.8 149.7M365.9 154.5 L349.7 154.0M369.6 156.7 L371.8 163.4 L368.0 165.6 L370.2 169.9M370.2 169.9 L372.9 173.4 L369.6 175.8 L365.3 180.7 L364.5 183.0M364.5 183.0 L359.4 181.0 L351.4 182.3 L348.1 180.2 L344.6 180.7M344.6 180.7 L340.1 178.0 L334.2 175.6 L330.4 174.5 L322.9 173.4M322.9 173.4 L323.9 171.0 L321.8 166.7 L319.1 162.6 L320.2 156.9M322.9 173.4 L320.2 172.3 L313.2 175.3 L308.3 176.4 L310.5 178.5 L317.5 184.6M317.5 184.6 L315.3 186.9 L311.8 188.3 L313.2 191.5 L308.9 191.0 L302.4 192.0 L299.5 191.2 L294.9 191.2M294.9 191.2 L289.5 190.2 L284.2 191.0M284.2 191.0 L284.2 188.3 L287.4 183.6 L280.9 182.6 L277.4 180.9M277.4 180.9 L278.2 179.1 L276.1 177.2M276.1 177.2 L275.6 173.9M275.6 173.9 L275.6 171.5 L276.6 168.0 L279.9 167.2 L281.2 165.0 L282.0 160.4M275.6 173.9 L273.9 173.7 L274.5 171.8 L270.2 170.2 L266.4 170.7 L261.4 170.6M257.0 172.2 L258.9 174.2 L261.0 175.3 L265.9 177.5 L269.4 177.2 L269.4 179.1 L274.5 180.4 L277.4 180.9M274.5 180.4 L274.2 178.5 L276.1 177.2M291.7 151.8 L293.8 152.1M284.2 191.0 L280.9 191.8 L276.1 196.6 L276.1 198.5 L279.9 197.4 L281.2 200.0M281.2 200.0 L281.5 202.6 L279.1 204.5 L280.9 206.6 L280.4 208.5 L284.7 209.6 L283.8 211.6M281.2 200.0 L285.8 199.9 L288.7 197.4 L291.4 200.4 L293.3 197.2 L297.9 198.2 L299.5 195.0M299.5 195.0 L294.9 193.9 L294.9 191.2M299.5 195.0 L302.4 195.4 L308.9 194.2 L310.0 195.8 L317.0 196.8M317.0 196.8 L321.8 197.4 L327.4 195.8 L329.9 194.9M329.9 194.9 L332.0 192.0 L335.2 190.4 L335.5 188.8M335.5 188.8 L334.4 185.6M334.4 185.6 L329.3 184.8 L323.9 183.4 L322.3 185.6 L317.5 184.6M334.4 185.6 L339.5 183.7 L344.6 180.7M335.5 188.8 L344.4 189.9 L350.3 188.0 L355.1 185.8 L362.4 186.6M362.4 186.6 L364.5 183.0M362.4 186.6 L366.4 188.8M366.4 188.8 L361.6 192.0 L357.3 197.4 L352.2 198.9M352.2 198.9 L344.9 200.0M344.9 200.0 L338.5 199.9 L332.5 197.1 L331.2 196.9M331.2 196.9 L329.9 194.9M317.0 196.8 L315.3 198.5 L316.4 200.7 L317.1 201.8M316.4 202.5 L321.3 202.3 L325.6 202.5 L327.7 200.4 L327.4 198.4 L331.2 196.9M328.0 203.8 L331.5 203.9 L334.7 203.9 L340.1 204.5 L345.4 205.7M345.4 205.7 L347.3 208.8 L348.1 210.7 L346.5 213.1M346.5 213.1 L343.8 214.7 L342.5 218.2M328.0 203.8 L328.8 206.6 L330.7 209.3 L334.7 213.1 L338.2 215.6 L342.5 218.2 L342.8 218.8M344.9 200.0 L346.0 203.4 L345.4 205.7M352.2 198.9 L358.3 203.9 L359.2 206.2 L364.0 206.6 L365.2 209.3M365.2 209.3 L363.7 212.0 L366.9 214.7 L363.7 219.6M363.7 219.6 L359.4 219.9 L354.0 221.7M346.5 213.1 L352.7 216.6 L351.4 218.2M351.4 218.2 L354.0 221.7M347.4 221.9 L348.7 218.2 L351.4 218.2M354.0 221.7 L353.5 225.0 L356.1 227.4M356.1 227.4 L354.3 231.5 L350.8 233.6M356.1 227.4 L361.0 226.1 L366.7 224.7M366.7 224.7 L366.9 222.6 L363.7 219.6M366.7 224.7 L375.0 223.6 L379.3 225.2 L385.0 222.8M385.0 222.8 L390.6 221.2 L394.0 221.3M385.0 222.8 L386.3 224.7 L383.3 228.1M365.2 209.3 L366.9 211.5 L375.0 211.8 L380.9 212.3 L388.5 209.7 L396.9 211.8M366.4 188.8 L377.2 190.4 L386.3 187.4M386.3 187.4 L391.1 192.0 L394.9 196.9 L394.9 202.5M394.9 202.5 L402.7 203.4M386.3 187.4 L391.7 186.4 L400.3 189.3 L404.0 195.3 L405.1 197.4 L398.9 199.6 L394.9 202.5M370.2 169.9 L377.7 167.7 L389.5 169.4 L400.8 170.4 L407.5 171.0 L409.7 166.8 L414.3 166.7M414.3 166.7 L413.2 162.9 L419.1 159.4 L414.3 156.4 L408.9 151.5 L410.0 147.8 L401.4 146.7 L394.9 144.8M414.3 166.7 L425.0 165.3 L428.2 168.3 L434.7 175.8 L444.9 176.4 L452.4 178.8 L458.9 180.2 L457.3 184.5 L457.3 189.6 L448.7 193.7M195.6 221.9 L199.2 220.7 L199.8 222.3 L207.8 221.5 L210.0 223.4 L206.2 226.6 L206.7 230.4 L205.7 233.6 L203.0 233.9 L205.7 236.9 L204.1 240.6 L205.7 241.7 L203.0 245.2 L203.5 247.2M233.7 213.8 L235.8 215.5 L239.5 216.3 L247.1 216.9 L251.1 218.0 L252.7 218.5 L260.3 218.9M231.5 258.6 L233.9 261.7 L234.2 267.1 L236.8 273.6 L236.3 274.7 L227.7 274.9 L223.7 277.1 L223.9 281.1 L216.4 286.0 L208.4 288.2 L196.7 293.0 L196.7 298.6M172.5 298.6 L196.7 298.6 L196.7 307.6 L178.8 307.6 L178.8 321.6M196.7 300.6 L217.3 313.0 L208.0 313.0 L208.0 321.6M217.3 313.0 L227.2 318.9 L230.4 321.6M289.5 248.5 L287.9 253.6 L287.7 260.6 L283.6 263.9 L283.6 265.5 L287.9 272.5 L292.0 274.7 L294.4 284.6M294.4 284.6 L298.1 281.1 L298.7 276.8 L305.1 272.0 L305.4 268.9M294.4 284.6 L296.5 291.4 L296.0 299.5 L296.5 304.9 L293.8 307.1 L297.1 315.7 L305.1 320.6M378.5 277.1 L376.9 278.4 L376.1 285.5 L377.7 290.1 L377.7 321.6M427.3 278.9 L430.9 288.7M431.3 288.4 L433.9 280.1 L434.4 273.0 L435.0 271.4M432.0 269.3 L435.0 268.5 L436.8 266.6 L440.1 263.3 L439.0 261.2 L436.7 260.9M435.0 271.4 L436.0 268.7M435.0 271.4 L441.1 273.6 L451.9 267.8M451.9 267.8 L454.0 274.4M454.0 274.4 L442.2 277.9 L447.6 283.3 L444.9 286.0 L437.2 290.3 L431.2 289.5M451.9 267.8 L463.7 262.2 L465.9 255.8 L464.8 250.9 L471.0 247.7M436.5 254.0 L437.6 253.6 L440.3 252.2 L439.8 249.3 L447.6 249.0 L458.3 249.3 L471.0 247.7M471.0 247.7 L484.1 247.4M484.1 247.4 L480.9 242.8 L482.0 235.2 L484.1 233.6M484.1 233.6 L478.0 231.5 L477.2 226.1M477.2 226.1 L471.8 224.2 L466.7 223.8M477.2 226.1 L485.2 225.2M485.2 225.2 L493.3 226.3 L493.8 222.3M458.3 213.6 L471.8 214.7 L479.3 218.0 L487.9 218.5 L493.8 222.3M493.8 222.3 L497.6 225.0 L500.8 225.5 L504.6 222.0 L511.0 218.0M485.2 225.2 L488.4 227.7 L490.6 230.9 L493.3 234.7 L493.3 238.0M493.3 238.0 L491.4 238.2 L487.6 237.4 L484.1 233.6M493.3 238.0 L501.3 233.6 L503.2 235.2 L501.3 238.5 L506.2 240.4 L513.2 241.2 L519.1 239.0M484.1 247.4 L487.4 253.6 L491.7 255.2 L487.4 264.4 L491.1 269.8 L500.3 276.3 L499.7 280.6 L501.3 283.3 L504.3 286.3M493.6 290.9 L499.7 285.5 L501.3 286.0 L501.9 286.3M493.6 290.9 L498.4 291.4 L499.7 293.9 L503.6 293.8M454.0 274.4 L460.5 275.5 L469.6 280.1 L483.6 290.3 L492.7 291.0 L493.6 290.9M516.4 314.4 L518.6 315.2 L520.7 315.2M520.7 317.3 L520.7 318.4 L522.9 321.6M544.9 307.3 L545.4 309.5M546.2 313.3 L543.3 317.3 L541.7 320.6M493.3 186.1 L496.0 182.9 L495.4 178.5 L503.0 178.5 L505.6 174.8 L515.9 168.8 L525.5 169.9 L536.8 172.6 L542.7 174.8 L551.9 172.6 L558.3 172.6 L563.2 174.8 L573.4 173.7 L571.2 169.9 L565.9 167.7 L571.2 165.6 L570.2 163.4 L571.8 161.8 L572.3 158.6 L579.3 156.4 L589.0 154.8 L592.7 154.2M493.3 186.1 L497.6 189.9 L503.0 195.3 L511.6 199.6 L507.8 201.8 L506.2 205.0 L506.7 209.3 L508.3 214.2 L511.0 218.0 L515.3 220.1 L519.1 223.4 L520.7 226.6 L521.5 230.4 L521.0 234.7 L519.1 239.0 L522.9 241.7 L528.2 244.2 L533.1 245.0 L537.9 245.2 L541.7 242.3 L550.8 241.5 L557.3 244.7 L562.1 245.5 L567.5 250.1 L572.0 250.1 L572.3 255.8M520.7 226.6 L526.6 221.2 L533.6 219.0 L540.1 223.9 L544.4 225.0M544.4 225.0 L544.4 205.0 L558.3 201.8 L571.2 208.2 L576.6 213.1 L583.1 212.6 L592.2 212.0 L592.7 212.6M544.4 225.0 L549.7 225.0 L550.3 221.7 L555.1 218.5 L557.8 217.4 L565.3 219.6 L565.9 222.3 L566.4 224.4 L571.2 225.5 L576.1 226.1 L578.8 232.0 L585.2 235.2 L588.4 237.7 L592.7 239.8M572.3 255.8 L571.8 261.2 L568.5 263.9 L569.1 269.3 L570.4 277.9 L575.3 278.4 L575.5 281.4 L570.5 286.8M570.5 286.8 L574.5 293.0 L580.9 295.5 L580.9 300.9 L583.6 304.1 L576.6 306.0 L574.5 311.9M570.5 286.8 L579.3 289.2 L587.4 289.2 L592.7 288.2M572.3 255.8 L578.2 257.4 L582.5 254.4 L590.1 252.0 L592.7 248.7" fill="none" stroke="#000" stroke-width="0.95" stroke-linejoin="round" stroke-linecap="round"/>
<path d="M121.3 103.2 L127.7 103.2 L134.7 104.8 L141.2 105.6 L147.6 104.0 L154.6 103.5 L162.7 101.0 L165.3 99.7 L170.2 97.0 L170.2 94.3 L164.8 92.7 L163.7 90.0 L157.3 88.9 L154.6 90.5 L149.2 91.1 L145.5 90.5 L142.2 91.6 L135.2 93.2 L134.2 91.1 L128.8 94.3 L127.2 91.6 L122.3 89.2 L118.6 89.7 L113.7 92.7 L111.6 94.3 L122.3 94.6 L125.0 96.5 L114.3 97.5 L123.4 100.2 L125.0 100.8 L121.3 103.2M194.9 65.4 L200.3 63.8M203.0 111.6 L208.9 111.6M204.1 112.1 L208.4 112.1M205.7 111.6 L206.2 115.9M206.5 112.1 L207.0 115.9M234.7 122.4 L237.4 120.2 L236.8 124.5 L234.7 122.4M225.6 129.4 L228.2 128.9 L227.7 130.2 L225.6 129.4M203.5 148.8 L210.0 149.9 L212.7 152.6 L213.7 154.8 L209.4 156.4 L210.5 160.2 L211.0 162.3 L208.9 166.1 L203.0 167.2 L198.7 168.3 L190.6 170.2 L187.9 168.3 L190.6 167.2 L187.4 166.4 L191.7 164.5 L190.1 164.0 L194.9 161.0 L188.5 159.6 L190.6 156.9 L189.0 156.4 L189.5 154.8 L197.1 154.8 L199.2 153.2 L196.0 152.6 L198.7 150.2 L203.5 148.8M212.7 177.7 L215.3 178.3 L221.3 176.4 L223.9 176.9 L225.0 174.8 L230.1 175.3 L233.1 174.8 L236.3 173.9 L239.0 174.1 L244.6 174.1 L248.5 173.1 L250.6 171.9 L251.0 170.5 L246.5 170.2 L248.1 168.6 L250.3 167.5 L252.7 164.5 L250.3 162.2 L244.9 162.6 L245.2 161.3 L243.8 158.6 L242.8 155.9 L240.1 153.7 L237.1 152.9 L235.8 151.0 L232.5 146.8 L231.7 146.1 L225.6 145.6 L229.3 144.1 L227.7 143.2 L232.3 139.4 L233.6 137.5 L232.5 136.4 L225.0 136.4 L220.7 137.5 L222.9 135.5 L221.8 134.8 L226.9 132.4 L227.0 131.3 L225.0 131.5 L216.4 131.5 L214.8 134.3 L215.9 135.6 L212.1 137.0 L212.7 138.6 L212.1 140.2 L210.0 141.7 L213.2 142.9 L213.7 144.0 L212.7 145.6 L212.1 149.4 L214.3 147.2 L217.0 146.1 L217.5 147.8 L218.3 148.6 L216.4 151.0 L217.2 153.0 L219.6 152.1 L224.5 151.5 L226.6 151.3 L223.9 153.7 L227.7 155.9 L226.9 157.8 L226.9 159.4 L225.6 159.9 L222.6 160.0 L218.6 159.9 L219.6 161.0 L217.8 162.9 L221.3 162.3 L221.5 164.5 L220.2 166.1 L218.0 166.7 L214.8 167.8 L215.9 169.1 L220.2 168.8 L220.7 169.6 L226.1 170.2 L228.8 169.4 L227.2 171.5 L224.5 171.5 L220.7 171.8 L219.1 172.6 L216.4 175.0 L212.7 177.7M203.0 140.2 L204.1 137.0 L206.2 135.3 L210.0 132.1 L208.9 134.5 L205.7 136.2 L203.0 140.2M209.4 139.4 L207.3 137.8 L209.4 136.4 L211.0 138.6 L209.4 139.4M209.4 144.0 L212.7 142.9 L210.5 142.4 L209.4 144.0M208.4 147.2 L210.5 146.1 L211.0 147.5 L208.4 147.2M217.5 156.1 L219.9 154.2 L219.6 155.6 L217.5 156.1M592.7 74.3 L579.3 71.6 L568.5 71.1 L570.2 74.3 L563.2 78.6 L555.1 75.9 L541.7 78.1 L536.3 79.7 L533.6 75.7 L529.8 79.2 L522.9 78.1 L512.1 80.8 L504.6 82.4 L500.3 86.7 L493.3 87.3 L490.1 83.0 L487.9 79.2 L480.9 77.6 L476.1 77.3 L478.8 81.9 L481.5 88.4 L479.8 91.3 L474.5 89.4 L470.7 88.9 L462.1 91.9 L457.3 94.3 L460.0 97.8 L461.0 99.4 L455.7 99.2 L447.6 97.5 L442.2 96.2 L440.1 97.5 L446.5 100.2 L448.1 102.9 L443.8 103.2 L438.4 101.9 L431.5 100.8 L430.4 99.2 L430.4 94.8 L427.7 91.1 L420.7 88.4 L417.5 85.4 L426.1 87.8 L434.1 89.4 L447.6 91.3 L458.3 90.8 L464.8 87.3 L463.7 84.0 L457.3 80.3 L447.6 78.6 L436.8 75.4 L426.1 73.8 L422.3 74.9 L420.7 72.7 L415.3 70.5 L412.6 71.9 L409.1 71.1 L404.6 71.6 L410.0 68.1 L401.9 66.2 L396.5 67.3 L397.1 64.9 L392.2 64.1 L387.4 66.8 L385.8 64.9 L382.0 63.8 L377.7 67.3 L375.5 64.9 L370.7 66.2 L366.9 68.9 L361.6 68.4 L357.3 70.3 L350.8 70.5 L345.4 71.6 L344.4 73.8 L340.1 72.7 L334.7 73.5 L335.8 76.5 L329.3 73.8 L323.9 75.9 L321.3 77.6 L313.2 81.3 L321.3 79.7 L329.3 78.6 L332.0 80.8 L323.9 82.4 L320.7 84.6 L325.0 86.2 L315.9 86.7 L313.2 90.0 L317.5 91.1 L310.0 93.8 L312.1 96.5 L305.1 97.5 L302.4 100.8 L297.1 101.9 L295.4 104.3 L301.4 104.6 L297.1 106.2 L289.0 106.2 L284.7 107.3 L280.9 110.0 L276.1 110.5 L270.7 112.1 L271.8 114.3 L269.6 115.9 L270.2 118.6 L280.9 117.8 L271.3 119.7 L270.7 121.8 L275.6 122.9 L272.3 125.1 L271.3 127.2 L276.6 127.8 L273.4 129.7 L273.4 131.6 L278.8 134.3 L281.2 134.8 L286.3 134.3 L290.6 132.4 L295.4 129.4 L298.7 127.8 L300.3 124.5 L300.8 128.3 L303.0 129.4 L304.0 133.2 L307.3 136.4 L310.5 140.7 L311.0 144.5 L313.2 147.8 L312.1 148.8 L317.5 148.8 L320.2 148.0 L319.6 146.1 L322.9 144.8 L327.2 144.8 L331.5 141.8 L333.1 136.2 L332.5 133.2 L334.7 131.3 L340.6 127.8 L344.9 125.3 L342.8 122.4 L336.3 120.2 L335.8 114.8 L336.8 111.0 L342.8 107.8 L348.1 105.4 L352.4 103.5 L357.8 98.6 L358.9 95.4 L362.6 93.8 L368.0 92.7 L372.9 92.7 L375.5 93.2 L379.9 97.0 L375.0 99.7 L367.5 103.2 L358.9 107.3 L357.8 111.6 L358.9 115.9 L358.3 118.1 L357.8 120.8 L362.6 121.8 L366.9 124.8 L377.7 123.2 L388.5 121.6 L397.6 120.2 L401.9 122.9 L405.7 124.3 L399.2 124.3 L393.8 126.7 L385.8 126.2 L376.1 127.0 L369.6 128.1 L369.6 129.9 L370.7 132.6 L375.0 132.9 L374.2 135.3 L372.9 139.9 L368.0 140.2 L364.8 136.2 L358.9 138.0 L356.2 142.9 L356.7 147.2 L357.3 149.9 L350.8 151.3 L350.3 152.9 L347.6 154.5 L343.6 154.2 L344.4 153.2 L342.2 152.1 L334.7 152.9 L327.2 155.3 L320.2 156.8 L317.5 155.6 L316.4 153.4 L312.7 154.2 L308.3 155.6 L301.9 156.7 L303.0 154.2 L298.1 154.2 L294.4 152.1 L295.4 149.9 L297.1 147.2 L298.1 144.8 L301.9 143.4 L298.7 142.4 L298.7 140.2 L300.0 137.8 L300.3 136.2 L296.8 137.0 L293.8 139.4 L289.5 139.6 L287.4 141.8 L286.8 145.6 L286.8 148.0 L288.7 148.6 L289.8 151.5 L289.5 154.8 L291.1 156.9 L289.0 158.8 L286.3 158.0 L280.9 158.3 L280.9 159.9 L280.4 159.4 L272.9 159.6 L268.8 162.1 L267.5 165.0 L265.3 167.3 L262.1 169.9 L261.3 170.7 L258.9 171.4 L255.9 172.3 L253.2 172.9 L251.8 173.3 L251.9 174.2 L251.6 176.9 L249.1 178.4 L243.8 180.7 L242.2 181.8 L237.4 181.5 L236.5 179.6 L234.7 179.9 L232.8 179.5 L234.7 182.3 L235.2 185.3 L232.5 185.3 L227.2 184.5 L224.5 184.2 L219.1 185.3 L217.7 187.0 L220.2 187.7 L217.9 188.6 L219.8 189.9 L225.0 190.4 L226.6 191.5 L229.9 192.6 L231.5 192.7 L232.0 195.3 L233.6 196.9 L237.1 198.8 L237.4 202.0 L236.6 206.9 L235.2 213.1 L232.5 214.1 L227.2 213.9 L222.9 213.3 L219.1 213.6 L212.7 212.8 L211.9 212.2 L205.7 212.8 L201.9 211.5 L201.0 211.6 L198.1 213.8 L193.8 214.7 L193.5 216.3 L195.5 218.5 L196.3 220.1 L195.6 221.9 L196.8 225.8 L196.3 228.5 L195.6 231.2 L192.8 235.5 L192.2 238.6 L193.8 239.0 L195.5 240.1 L193.8 240.5 L195.6 243.1 L194.9 248.1 L200.8 248.2 L203.5 247.2 L205.9 247.1 L209.4 250.7 L210.9 252.6 L213.2 253.6 L214.5 252.9 L219.6 249.8 L224.5 249.7 L230.1 249.1 L231.5 249.7 L234.7 246.3 L237.9 245.0 L239.5 244.8 L240.7 240.9 L244.5 238.9 L241.5 235.0 L243.3 232.2 L248.0 228.1 L250.0 226.1 L255.0 224.5 L260.5 221.7 L261.1 219.5 L259.7 217.4 L260.5 215.0 L263.2 213.6 L267.5 213.6 L269.4 213.9 L272.1 214.2 L275.2 215.3 L278.8 214.7 L280.9 212.8 L282.4 212.0 L285.2 211.5 L289.0 208.8 L291.3 208.2 L296.1 210.0 L298.7 212.8 L299.7 216.2 L303.0 219.0 L306.7 220.7 L309.2 222.6 L311.1 224.2 L313.5 225.4 L316.4 225.5 L319.9 227.4 L320.4 228.8 L322.7 228.4 L323.9 230.9 L325.4 231.8 L327.3 231.6 L328.2 234.7 L329.9 237.4 L328.5 239.3 L327.4 242.3 L329.6 243.2 L332.3 240.6 L332.5 238.5 L335.4 237.0 L335.5 235.2 L332.0 233.4 L332.5 231.2 L335.8 229.5 L340.1 231.7 L342.1 233.1 L342.8 231.2 L339.8 228.5 L334.0 225.9 L328.8 223.2 L330.3 221.7 L325.6 221.7 L323.9 221.2 L319.7 218.7 L315.9 212.5 L310.9 210.0 L309.3 208.1 L310.5 205.3 L309.7 202.7 L313.7 201.5 L317.3 201.5 L316.3 202.1 L317.8 205.7 L319.4 205.0 L320.9 203.2 L323.4 205.0 L325.1 209.8 L328.8 211.9 L331.6 213.1 L334.7 214.7 L337.0 215.5 L340.6 217.7 L343.8 219.0 L346.0 220.7 L347.6 222.0 L347.9 224.9 L348.0 229.6 L347.1 229.8 L349.5 231.5 L350.8 232.7 L351.9 234.7 L354.9 237.7 L356.7 241.2 L358.3 240.9 L360.1 241.5 L357.8 241.7 L356.9 243.2 L357.8 244.8 L359.4 247.1 L360.0 249.2 L361.3 249.3 L362.4 248.2 L364.2 251.4 L364.6 249.6 L368.0 251.3 L367.2 249.3 L365.9 245.2 L369.1 246.3 L368.0 245.5 L366.8 243.2 L361.6 241.2 L366.8 243.0 L370.4 243.2 L372.5 244.7 L372.3 242.0 L370.2 240.1 L364.8 238.1 L366.7 235.5 L368.6 235.8 L366.4 232.5 L364.8 232.0 L365.1 229.3 L366.6 228.7 L369.1 232.3 L370.2 230.9 L372.3 232.3 L371.8 230.1 L374.5 231.3 L370.7 228.2 L374.5 227.0 L378.2 226.9 L382.4 227.4 L383.3 228.1 L387.4 228.8 L384.0 231.7 L386.8 229.6 L391.1 226.8 L399.0 226.6 L399.7 225.4 L394.4 223.6 L394.0 221.7 L391.1 218.5 L393.5 214.7 L396.4 213.8 L397.3 209.5 L402.7 204.2 L403.2 202.6 L405.7 200.4 L408.6 197.2 L412.6 196.4 L415.3 197.2 L419.6 199.1 L423.9 198.8 L418.0 203.1 L422.7 203.9 L423.1 207.2 L424.7 208.3 L426.9 207.7 L431.5 205.9 L433.6 204.8 L439.3 204.5 L440.1 202.8 L433.1 203.1 L430.4 198.7 L433.1 197.7 L441.1 195.6 L445.2 193.7 L452.4 193.1 L454.6 193.7 L448.9 195.8 L448.1 199.3 L446.2 203.1 L444.4 203.4 L440.3 203.9 L441.1 204.5 L443.8 205.5 L446.5 206.6 L453.2 209.9 L456.8 212.7 L463.7 215.8 L467.2 220.4 L467.1 223.1 L465.9 224.4 L456.8 226.6 L449.7 227.0 L444.9 226.3 L438.6 225.0 L436.8 222.7 L432.3 221.0 L424.8 221.3 L414.3 224.2 L410.0 226.1 L406.2 225.5 L399.7 225.4M399.0 226.6 L404.0 228.0 L399.2 229.8 L391.1 230.1 L386.8 229.8 L385.2 231.2 L383.5 234.8 L388.2 234.4 L386.8 235.8 L387.9 237.9 L385.1 239.3 L389.0 240.5 L384.7 241.1 L387.4 242.0 L389.8 243.6 L389.5 246.3 L390.8 248.0 L390.6 249.8 L395.3 249.0 L398.7 249.8 L399.8 250.3 L402.6 252.5 L406.7 252.2 L408.3 248.8 L415.3 250.6 L419.8 253.4 L425.7 252.0 L429.5 249.3 L433.5 250.5 L437.9 248.7 L437.7 250.5 L436.5 253.2 L435.7 256.2 L436.2 259.5 L435.9 262.0 L434.1 264.9 L432.5 268.3 L431.5 270.8 L430.2 274.8 L428.5 277.9 L427.3 278.9 L425.0 279.8 L416.9 279.1 L414.3 277.8 L406.7 278.1 L404.0 279.5 L398.9 281.5 L389.8 278.6 L382.5 277.3 L378.5 277.6 L372.2 274.8 L367.5 272.0 L365.1 271.0 L360.0 270.2 L354.0 272.2 L351.2 274.6 L350.3 280.6 L351.1 281.7 L346.5 284.5 L343.0 283.3 L332.5 279.5 L326.1 277.4 L324.5 273.1 L320.0 271.7 L314.3 270.3 L308.2 270.2 L305.4 268.9 L303.0 267.1 L297.6 265.0 L297.1 262.8 L301.2 260.5 L303.2 257.8 L301.5 254.8 L300.3 251.4 L302.7 247.8 L298.7 249.0 L296.4 246.6 L290.3 248.5 L285.1 248.7 L280.4 248.8 L274.3 249.2 L270.6 249.6 L264.3 248.6 L259.7 249.4 L255.1 250.4 L250.3 250.8 L243.7 254.0 L239.9 255.2 L236.8 256.0 L233.4 258.5 L231.5 258.6 L227.4 257.4 L227.3 256.7 L222.2 257.6 L217.5 257.4 L214.8 255.8 L214.8 254.1 L212.1 254.8 L210.2 257.9 L207.8 263.1 L206.5 264.3 L202.4 266.6 L197.6 268.5 L193.6 273.6 L190.8 277.9 L190.2 282.6 L191.7 283.7 L188.6 289.3 L183.6 292.8 L173.8 297.2 L171.3 301.7 L165.3 306.9 L163.2 313.0 L158.4 318.4 L157.3 321.1M520.7 59.7 L523.9 56.5 L528.2 53.3 L534.1 50.0 L539.0 46.2 L543.8 42.5 L549.7 40.6 L556.2 39.2 L571.2 37.3 L588.4 36.5 L593.8 36.0M520.3 59.4 L523.1 58.1 L523.6 56.0 L525.4 56.1 L526.5 53.7 L528.1 53.8 L529.0 52.0 L531.5 51.8 L532.7 49.9 L534.7 50.4 L535.3 48.8 L537.6 47.7 L538.4 46.2 L540.5 45.7 L541.7 43.2 L544.0 43.0 L545.6 41.2 L547.8 41.6 L550.0 39.7 L551.8 40.8 L552.7 39.5 L554.4 39.9 L556.4 38.7 L558.3 39.4 L559.9 38.0 L560.7 39.0 L563.2 37.8 L565.1 38.6 L565.7 37.4 L568.2 38.1 L569.1 37.1 L571.7 38.0 L572.5 36.9 L574.3 37.5 L576.7 36.7 L578.2 37.5 L579.5 36.3 L581.2 37.5 L582.9 36.3 L584.7 37.1 L587.2 35.9 L588.3 37.3 L589.9 35.9 L592.5 36.7M520.7 59.7 L522.9 62.4 L526.6 64.1 L530.9 65.4 L537.4 66.8 L544.4 67.0 L553.0 66.8 L549.7 63.5 L547.0 60.8 L543.3 57.6 L542.2 54.9 L544.4 52.2 L543.8 50.0 L549.7 47.3 L556.2 44.1 L568.5 41.4 L588.4 38.7 L593.8 38.1M535.2 51.9 L544.4 52.2M503.0 74.9 L504.6 73.2 L508.3 72.7 L512.6 74.0 L511.6 75.9 L506.7 77.0 L503.0 74.9M557.8 69.5 L563.2 67.3 L568.5 70.0 L563.2 71.9 L557.8 69.5M296.0 148.0 L300.8 148.0 L301.4 150.5 L297.6 150.7 L296.0 148.0M302.4 147.2 L306.7 145.9 L311.0 145.3 L311.0 147.8 L308.9 149.9 L307.8 152.4 L302.4 152.4 L303.5 149.9 L302.4 147.2M341.1 140.2 L344.4 135.3 L346.5 135.3 L343.8 139.1 L341.1 140.2M331.5 144.5 L335.2 138.3M361.0 134.8 L368.6 132.4 L366.4 131.3 L361.0 132.1 L362.6 133.7 L361.0 134.8M362.1 129.9 L366.9 130.2 L364.8 128.9 L362.1 129.9M348.7 122.9 L352.4 122.1 L351.9 123.7 L348.7 122.9M322.3 150.5 L324.7 150.2 L323.9 151.0 L322.3 150.5M318.6 79.2 L326.6 75.9 L329.3 76.8 L323.9 78.6 L318.6 79.2M334.7 74.3 L340.1 72.2 L336.8 75.4M364.3 66.8 L369.6 65.4 L366.9 67.6M270.2 114.3 L271.3 113.2M269.1 120.8 L270.2 119.1M270.2 125.1 L271.8 123.5M286.3 105.1 L290.6 104.0M302.4 97.5 L305.7 95.9M307.8 91.6 L311.0 88.9M249.8 237.9 L251.9 236.9 L250.8 238.2 L249.8 237.9M255.9 234.4 L260.0 232.3 L261.8 233.6 L260.0 235.8 L257.8 235.2 L255.9 234.4M263.7 232.0 L266.4 232.5 L264.3 232.5 L263.7 232.0M289.5 219.0 L293.8 215.8 L294.6 220.7 L292.8 224.4 L290.6 223.9 L289.5 219.0M287.4 227.1 L292.8 225.2 L296.0 229.3 L294.9 236.3 L291.7 237.4 L288.5 236.9 L288.7 230.4 L287.4 227.1M310.2 242.5 L314.8 241.7 L326.9 241.2 L324.5 246.6 L324.5 250.1 L320.2 248.2 L310.5 245.0 L310.2 242.5M320.2 254.1 L321.5 254.4M369.9 256.3 L373.4 255.8 L382.0 257.4 L384.7 257.4 L384.2 259.0 L376.1 259.3 L369.9 257.6 L369.9 256.3M416.9 258.7 L420.2 257.1 L429.0 255.3 L425.5 258.5 L426.1 259.1 L420.7 261.2 L417.8 260.4 L416.9 258.7M366.4 238.2 L369.1 237.4 L373.4 239.6 L375.5 242.8 L372.9 240.9 L370.2 238.8 L366.4 238.2M392.2 252.5 L395.2 251.2 L393.3 253.9 L392.2 252.5M382.3 236.3 L386.3 235.8 L385.2 237.4 L382.3 236.3M382.5 241.2 L383.9 239.6 L383.6 241.7 L382.5 241.2M386.3 244.2 L388.7 244.4 L387.1 244.7M378.2 232.5 L380.1 232.0 L379.3 233.1M375.0 228.5 L376.4 227.7 L376.4 228.8M348.9 233.4 L350.6 233.1 L351.4 235.2 L350.0 235.0 L348.9 233.4M353.0 241.2 L355.1 240.9 L354.3 242.5 L353.0 241.2M354.0 243.6 L356.2 244.2 L355.1 244.7M376.1 243.1 L377.4 244.2M379.3 247.7 L380.9 247.4M378.2 248.2 L379.0 247.7M374.5 249.8 L375.3 249.6M379.9 251.4 L380.4 251.2M387.9 249.3 L390.1 248.7M388.2 250.4 L389.5 250.6M389.0 256.3 L389.5 254.1M377.2 246.0 L377.7 245.5M373.9 245.0 L374.5 244.7M366.9 252.5 L367.5 252.0M377.7 249.8 L378.2 249.6M331.5 214.7 L335.2 215.3M332.5 216.1 L335.8 216.1M320.7 204.5 L322.9 205.3 L321.3 206.6M322.6 207.2 L324.5 208.5M75.6 235.0 L76.1 234.7M88.5 239.8 L89.5 239.6M89.8 240.4 L92.5 240.5 L91.2 239.8 L89.8 240.4M91.2 238.8 L93.8 239.8M96.3 238.8 L97.9 239.3M104.3 243.6 L108.1 244.2 L106.2 244.4 L104.3 243.6M108.1 248.5 L108.9 248.2M150.6 270.9 L153.5 271.1 L151.9 271.7 L150.6 270.9M155.1 269.5 L155.7 269.3M146.5 292.8 L147.9 292.5 L147.3 294.4 L146.5 292.8M146.0 298.1 L147.1 297.9M150.0 296.3 L151.4 296.0M152.4 294.9 L156.5 293.8 L154.1 296.8 L152.4 294.9M158.4 296.8 L160.5 296.0 L160.2 297.9 L158.4 296.8M165.3 296.3 L168.8 293.0 L168.0 295.5 L165.3 296.3M168.8 291.9 L171.0 290.3 L170.7 291.7 L168.8 291.9M418.3 286.3 L417.2 288.2 L418.8 290.9 L421.2 294.9 L425.2 300.9 L425.8 303.6 L427.6 307.1 L430.9 312.6 L434.1 318.9 L434.7 321.6M418.6 286.3 L421.2 291.1 L424.0 295.6 L427.4 298.3 L428.9 294.1 L429.7 291.2 L431.3 288.5 L431.1 289.9 L430.1 296.3 L432.5 296.5 L435.2 300.3 L439.3 306.4 L443.7 312.7 L447.9 318.0 L450.3 321.1M506.2 284.1 L504.3 286.3 L500.8 289.2 L501.3 289.4 L503.5 293.6 L504.0 294.6 L510.2 302.2 L512.6 305.2 L513.2 309.2 L516.1 314.4 L516.4 310.3 L517.5 307.6 L518.8 306.8 L520.4 311.4 L520.7 314.9 L520.7 316.8 L526.1 317.6 L530.9 317.6 L535.6 315.9 L540.6 311.5 L544.4 308.7 L546.5 305.7 L545.8 309.7 L546.2 312.3 L548.4 316.5 L552.4 319.2 L555.1 320.6M506.2 284.1 L507.3 283.6 L512.9 285.7 L516.6 291.6 L519.1 297.3 L523.1 297.7 L526.1 300.0 L530.9 303.6 L538.3 304.6 L542.2 303.0 L545.8 301.2 L549.7 302.2 L548.7 305.4 L551.3 309.0 L553.9 309.5 L560.5 310.8 L569.2 311.4 L574.5 311.9 L578.2 312.3 L584.5 311.5 L590.8 311.9 L592.7 311.4M540.6 304.1 L545.7 302.5 L543.3 303.8 L540.6 304.1M514.5 306.5 L515.3 306.5M272.2 131.9 L275.1 128.9 L271.6 129.5 L274.7 126.9 L270.2 127.5 L273.4 125.6 L269.6 125.0 L272.4 123.8 L268.9 123.0 L273.6 121.3 L269.7 120.9 L272.8 119.2 L269.5 119.1 L272.2 117.3 L267.9 117.1 L272.7 117.1 L268.3 114.3 L273.5 115.4 L270.2 112.5 L271.7 113.8 L271.9 110.4 L273.7 113.2 L273.4 109.9 L275.6 113.2 L274.9 108.5 L277.8 113.2 L276.8 107.7 L279.0 110.8 L278.6 107.0 L281.3 110.8 L280.8 107.2 L283.2 110.0 L282.5 106.7 L285.5 110.1 L283.9 105.0 L286.2 107.6 L286.0 104.2 L288.1 106.7 L288.2 104.5 L290.0 106.8 L289.7 102.6 L292.2 107.7 L291.6 103.4 L293.3 105.0 L293.1 102.3 L295.1 104.7 L294.3 101.3 L297.8 105.5 L296.8 100.8 L299.2 103.6 L298.3 99.6 L301.1 102.9 L300.2 98.7 L302.9 102.2 L301.6 98.3 L304.9 100.3 L303.6 97.4 L306.3 99.4 L304.3 95.7 L307.2 97.2 L306.3 94.4 L309.2 96.5 L307.7 92.9 L310.3 94.8 L308.5 91.6 L312.3 93.6 L310.4 90.6 L313.4 91.8 L311.3 88.8 L314.3 90.6 L313.7 87.6 L316.6 90.0 L314.9 86.3 L317.6 87.7 L316.3 84.9 L319.0 86.3 L318.0 83.8 L321.2 85.6 L320.0 82.5 L322.8 85.0 L321.3 81.0 L323.5 82.8 L322.9 80.2 L326.3 82.7 L324.3 78.8 L327.3 81.5 L326.3 77.6 L328.3 80.0 L328.1 76.8 L330.3 79.3 L329.6 75.8 L332.1 77.6 L330.9 74.1 L334.4 78.7 L333.0 73.3 L335.6 76.3 L335.1 72.6 L337.6 76.2 L336.9 72.6 L338.8 74.6 L338.9 71.9 L340.9 73.6 L341.0 70.4 L343.1 75.1 L343.0 70.2 L344.4 74.4 L344.6 70.2 L346.6 73.4 L346.5 68.9 L348.4 72.6 L348.3 68.6 L350.5 73.2 L350.5 69.0 L352.4 72.8 L352.2 67.8 L354.6 72.4 L354.8 68.5 L356.4 72.1 L356.2 67.8 L358.0 71.0 L358.3 67.1 L360.0 69.4 L360.2 67.2 L361.6 69.2 L362.4 65.7 L363.8 69.8 L364.1 66.1 L365.9 69.6 L366.2 65.5 L367.6 68.5 L367.8 64.9 L369.9 68.1 L369.8 65.0 L371.4 68.3 L372.3 64.3 L373.6 68.1 L374.0 64.1 L375.4 68.1 L375.9 63.5 L377.3 66.8 L377.9 63.3 L379.0 67.1 L379.8 62.8 L381.5 66.7 L382.3 62.8 L382.7 66.9 L383.7 62.8 L384.6 68.0 L385.9 63.2 L386.6 67.4 L387.4 63.4 L388.0 66.5 L389.5 64.3 L389.9 66.5 L391.5 64.2 L391.4 68.4 L393.2 63.5 L393.7 68.7 L395.5 64.2 L396.0 67.1 L397.4 64.6 L397.9 67.6 L399.4 64.3 L399.4 68.3 L401.2 64.7 L401.3 68.2 L403.1 65.5 L403.2 69.3 L404.8 66.3 L404.7 69.9 L406.5 66.7 L406.8 70.5 L408.4 67.8M311.8 81.0 L313.2 83.1 L313.1 80.4 L314.9 81.6 L315.0 79.6 L316.2 81.5 L316.7 79.3 L318.1 80.6 L318.2 79.1 L319.9 80.9 L319.8 77.9 L321.4 80.2 L321.3 77.9 L323.1 79.6 L323.2 77.5 L324.3 78.6 L324.5 76.3 L326.1 78.8 L326.5 76.4 L327.9 77.4 L327.3 75.3 L329.5 75.8 L329.3 74.3M213.0 149.4 L215.9 147.3 L212.4 147.8 L215.4 145.6 L212.4 145.9 L214.7 144.5 L212.0 144.1 L213.9 142.7 L211.7 142.8 L214.4 140.8 L210.5 141.1 L213.2 140.9 L211.1 139.3 L213.8 139.0 L210.8 137.7 L215.3 138.2 L211.7 135.7 L214.7 137.1 L213.0 134.9 L215.4 135.3 L213.9 133.3 L217.4 134.8M203.1 139.6 L205.1 140.0 L203.9 138.0 L205.9 137.2 L205.4 135.2 L207.1 135.7 L206.4 133.6 L208.8 134.8 L208.4 132.8M188.7 169.2 L190.3 167.7 L188.9 166.9 L190.0 165.7 L189.0 164.5 L190.9 163.8 L190.0 162.5 L191.6 161.4 L190.1 160.4 L191.4 159.1 L189.6 158.1 L191.3 156.6M56.9 89.3 L61.9 86.3 L68.0 82.7 L74.0 81.3 L80.0 80.3 L84.0 78.3 L88.0 79.3 L92.0 77.9 L102.1 75.3 L110.1 72.7 L117.1 70.2 L123.2 68.6 L126.6 66.6 L127.4 63.2 L125.2 60.2 L123.2 57.2 L124.6 54.6 L125.8 51.2M126.6 66.6 L121.2 65.2 L116.1 63.8 L110.1 64.2 L105.1 62.6 L99.1 61.8 L92.0 62.6 L88.0 60.2 L94.1 59.4 L100.1 60.2 L105.1 61.2M123.2 68.6 L117.1 68.6 L112.1 67.2 L108.1 64.6 L104.1 64.6 L100.1 66.6 L94.1 66.8 L88.0 68.2 L85.6 68.6 L92.0 69.8 L99.1 69.4 L105.1 68.2 L110.1 69.4M125.2 60.2 L119.2 58.8 L113.1 57.4 L107.1 56.0 L100.1 55.0 L95.1 52.6 L100.1 53.0 L106.1 53.0 L112.1 54.4 L118.2 55.6 L123.2 57.2M124.6 54.6 L121.2 52.2 L115.1 51.2 L109.1 50.2 L104.1 49.8 L110.1 52.0 L116.1 53.4 L121.2 54.6M92.0 64.2 L97.1 65.0 L102.1 63.8 L107.1 63.2M89.0 65.8 L95.1 66.0 L99.1 65.0M125.8 51.2 L130.2 50.2 L134.2 48.8 L131.2 47.1 L126.2 47.8 L123.2 46.1 L128.2 45.1 L135.2 46.3 L140.2 47.3 L144.3 45.3 L149.3 43.3 L145.3 41.7 L140.2 43.1 L134.2 42.1 L128.2 42.7 L123.2 42.1 L121.8 40.1 L127.2 40.1 L133.2 39.3 L128.2 37.7 L123.2 37.3 L121.2 35.1 L127.2 34.3 L134.2 35.7 L140.2 36.7 L143.3 34.3 L140.2 31.3 L136.2 29.3 L130.2 30.3 L125.2 29.3 L127.2 26.3 L132.2 27.3 L137.2 25.3 L134.2 22.2 L129.2 23.3M136.2 19.0 L140.2 21.0 L138.2 24.1 L142.2 25.3 L147.3 22.2 L148.3 20.4M140.2 31.3 L146.3 28.3 L148.7 29.3M142.2 36.3 L147.3 35.3 L149.3 37.1M124.6 48.2 L130.2 47.3 L133.8 49.4 L130.2 51.2 L125.4 50.6 L124.6 48.2M131.2 32.1 L136.2 32.5 L139.2 34.1M126.2 24.1 L123.2 27.1 L124.6 31.1 L122.2 33.1M138.2 27.7 L143.3 27.1M131.2 20.0 L133.2 24.1M144.3 38.1 L149.3 39.7 L146.3 41.1M129.8 35.7 L135.2 37.7M132.6 43.7 L138.6 44.5M302.9 13.9 L299.3 18.9 L298.6 21.8 L300.9 23.4 L304.9 24.8 L309.8 24.2 L315.7 26.8 L317.7 29.7 L322.6 30.7 L327.6 32.7 L332.5 34.9 L335.5 33.7 L337.4 29.7 L342.4 28.9 L345.3 25.8 L348.3 23.8 L354.2 24.2 L360.1 26.8 L364.5 28.7 L360.1 29.9 L356.2 29.3 L355.2 27.4 L358.2 25.8M299.3 18.9 L306.8 18.3 L311.8 20.3 L316.7 18.7 L322.6 19.9 L326.6 18.7 L329.5 20.9 L324.6 22.2 L318.7 21.4 L313.7 23.0 L308.8 21.8 L303.9 22.2 L300.9 20.9M315.7 26.8 L321.6 25.8 L327.6 26.6 L333.5 25.8 L335.5 27.8 L330.5 28.6 L324.6 28.2 L319.7 28.9 L317.7 29.7M318.7 23.8 L324.6 24.2 L330.5 23.0 L334.5 24.2 L329.5 25.4 L323.6 25.2M306.8 23.0 L311.8 23.8 L309.8 25.4M324.6 29.7 L330.5 30.5 L334.5 29.7M330.5 13.9 L334.5 16.9 L338.4 19.1 L344.3 20.3 L350.3 19.9 L360.1 21.8 L354.2 22.8 L349.3 21.8 L345.3 23.0 L348.3 23.8M338.4 19.1 L350.3 18.3 L360.1 19.3 L370.0 19.1 L379.9 18.7 L385.4 18.1M354.2 15.9 L366.0 17.5 L377.9 15.9M356.2 26.8 L360.1 23.8 L366.0 25.8 L371.0 27.4 L376.3 28.7 L371.0 30.7 L364.1 29.7 L360.1 29.9M363.1 27.4 L369.0 28.9M358.2 25.4 L363.1 25.0 L367.0 26.6M384.2 23.0 L387.4 23.0 L387.8 24.2 L385.0 24.2 L384.2 23.0M393.7 22.2 L397.6 21.8 L403.2 22.4 L398.6 22.8 L393.7 22.2M377.5 35.3 L380.7 33.9 L381.0 34.7 L377.9 35.9 L377.5 35.3M344.3 46.1 L346.7 45.9 L346.9 46.9 L344.7 47.1 L344.3 46.1" fill="none" stroke="#000" stroke-width="1.12" stroke-linejoin="round" stroke-linecap="round"/></g>
<rect x="51.0" y="12.5" width="544.5" height="311.0" fill="none" stroke="#8e8e8e" stroke-width="1.25"/>
<path d="M81.5 323.5v-6M81.5 12.5v6M108.5 323.5v-3.3M108.5 12.5v3.3M135.5 323.5v-6M135.5 12.5v6M162.5 323.5v-3.3M162.5 12.5v3.3M189.5 323.5v-6M189.5 12.5v6M216.5 323.5v-3.3M216.5 12.5v3.3M243.5 323.5v-6M243.5 12.5v6M269.5 323.5v-3.3M269.5 12.5v3.3M296.5 323.5v-6M296.5 12.5v6M323.5 323.5v-3.3M323.5 12.5v3.3M350.5 323.5v-6M350.5 12.5v6M377.5 323.5v-3.3M377.5 12.5v3.3M404.5 323.5v-6M404.5 12.5v6M431.5 323.5v-3.3M431.5 12.5v3.3M458.5 323.5v-6M458.5 12.5v6M485.5 323.5v-3.3M485.5 12.5v3.3M511.5 323.5v-6M511.5 12.5v6M538.5 323.5v-3.3M538.5 12.5v3.3M565.5 323.5v-6M565.5 12.5v6M51.0 312.5h4M595.5 312.5h-4M51.0 285.5h6M595.5 285.5h-6M51.0 258.5h4M595.5 258.5h-4M51.0 231.5h6M595.5 231.5h-6M51.0 204.5h4M595.5 204.5h-4M51.0 177.5h6M595.5 177.5h-6M51.0 150.5h4M595.5 150.5h-4M51.0 123.5h6M595.5 123.5h-6M51.0 96.5h4M595.5 96.5h-4M51.0 69.5h6M595.5 69.5h-6M51.0 42.5h4M595.5 42.5h-4" stroke="#8e8e8e" stroke-width="1" fill="none"/>
<text x="81.4" y="338.4" font-size="7.7" text-anchor="middle">30°W</text>
<text x="135.2" y="338.4" font-size="7.7" text-anchor="middle">20°W</text>
<text x="188.9" y="338.4" font-size="7.7" text-anchor="middle">10°W</text>
<text x="242.7" y="338.4" font-size="7.7" text-anchor="middle">0°</text>
<text x="296.5" y="338.4" font-size="7.7" text-anchor="middle">10°E</text>
<text x="350.2" y="338.4" font-size="7.7" text-anchor="middle">20°E</text>
<text x="404.0" y="338.4" font-size="7.7" text-anchor="middle">30°E</text>
<text x="457.7" y="338.4" font-size="7.7" text-anchor="middle">40°E</text>
<text x="511.5" y="338.4" font-size="7.7" text-anchor="middle">50°E</text>
<text x="565.3" y="338.4" font-size="7.7" text-anchor="middle">60°E</text>
<text transform="translate(44,286.0) rotate(-90)" font-size="8" text-anchor="middle">30°N</text>
<text transform="translate(44,232.0) rotate(-90)" font-size="8" text-anchor="middle">40°N</text>
<text transform="translate(44,178.0) rotate(-90)" font-size="8" text-anchor="middle">50°N</text>
<text transform="translate(44,124.0) rotate(-90)" font-size="8" text-anchor="middle">60°N</text>
<text transform="translate(44,70.0) rotate(-90)" font-size="8" text-anchor="middle">70°N</text>
<text x="323.3" y="349" font-size="9.5" text-anchor="middle">Longitude</text>
<text transform="translate(37,168) rotate(-90)" font-size="10" text-anchor="middle">Latitude</text>
<circle cx="320" cy="165.2" r="14.1" fill="#fff"/><text x="320.2" y="172.2" font-size="20.5" font-weight="bold" fill="#800A10" text-anchor="middle">A</text>
<rect x="16.5" y="371.5" width="48.0" height="16.5" fill="#3E3EBE"/>
<rect x="64.2" y="371.5" width="48.0" height="16.5" fill="#9B9BEC"/>
<rect x="111.8" y="371.5" width="48.0" height="16.5" fill="#A6A6F4"/>
<rect x="159.5" y="371.5" width="48.0" height="16.5" fill="#B4B4FC"/>
<rect x="397.8" y="371.5" width="48.0" height="16.5" fill="#EEEE50"/>
<rect x="445.5" y="371.5" width="48.0" height="16.5" fill="#FFFF00"/>
<rect x="493.2" y="371.5" width="48.0" height="16.5" fill="#FFCC00"/>
<rect x="540.8" y="371.5" width="48.0" height="16.5" fill="#FF9900"/>
<path d="M35.6 371.5V388M73.7 371.5V388M111.8 371.5V388M150.0 371.5V388M188.1 371.5V388M416.9 371.5V388M455.0 371.5V388M493.2 371.5V388M531.3 371.5V388M569.4 371.5V388" stroke="#fff" stroke-opacity="0.3" stroke-width="0.9"/>
<text x="35.6" y="397.9" font-size="8.2" text-anchor="middle">-2.8</text>
<text x="73.7" y="397.9" font-size="8.2" text-anchor="middle">-2.4</text>
<text x="111.8" y="397.9" font-size="8.2" text-anchor="middle">-2</text>
<text x="150.0" y="397.9" font-size="8.2" text-anchor="middle">-1.6</text>
<text x="188.1" y="397.9" font-size="8.2" text-anchor="middle">-1.2</text>
<text x="226.2" y="397.9" font-size="8.2" text-anchor="middle">-0.8</text>
<text x="264.4" y="397.9" font-size="8.2" text-anchor="middle">-0.4</text>
<text x="302.5" y="397.9" font-size="8.2" text-anchor="middle">0</text>
<text x="340.6" y="397.9" font-size="8.2" text-anchor="middle">0.4</text>
<text x="378.8" y="397.9" font-size="8.2" text-anchor="middle">0.8</text>
<text x="416.9" y="397.9" font-size="8.2" text-anchor="middle">1.2</text>
<text x="455.0" y="397.9" font-size="8.2" text-anchor="middle">1.6</text>
<text x="493.2" y="397.9" font-size="8.2" text-anchor="middle">2</text>
<text x="531.3" y="397.9" font-size="8.2" text-anchor="middle">2.4</text>
<text x="569.4" y="397.9" font-size="8.2" text-anchor="middle">2.8</text>
<text x="10" y="365.3" font-size="9.8">Pressure 250.0 mb Time Nov 2020</text>
<text x="202" y="410" font-size="10.5">Standardized Geopotential Height Anomaly</text>
</svg>
</body></html>
